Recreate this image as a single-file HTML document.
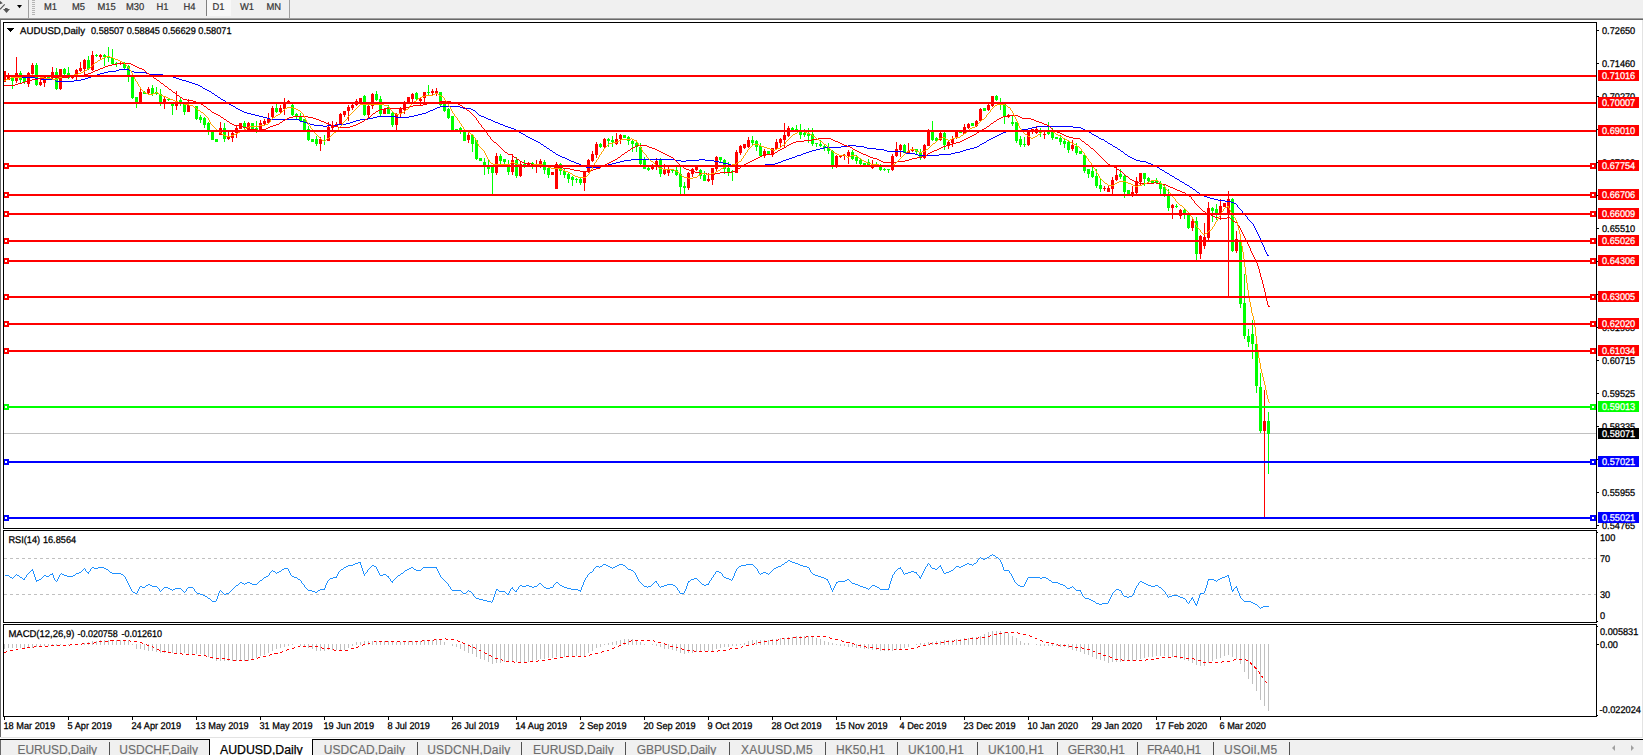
<!DOCTYPE html>
<html><head><meta charset="utf-8"><title>AUDUSD,Daily</title>
<style>
html,body{margin:0;padding:0;background:#fff}
body{width:1643px;height:755px;position:relative;overflow:hidden;font-family:"Liberation Sans",sans-serif}
#tb{position:absolute;left:0;top:0;width:1643px;height:18px;background:#f0f0f0}
#tb .tf{position:absolute;top:1.6px;font-size:9.4px;line-height:11px;color:#333;-webkit-text-stroke:0.2px #333;white-space:nowrap}
.vl{position:absolute;width:1px;background:#a0a0a0}
#d1{position:absolute;left:207px;top:0;width:24px;height:16px;background:#f8f8f8}
#grip{position:absolute;left:32px;top:0;width:3px;height:16px;background:repeating-linear-gradient(#b4b4b4 0 1px,#f0f0f0 1px 2px)}
#l1{position:absolute;left:0;top:18px;width:1643px;height:1px;background:#a0a0a0}
#l2{position:absolute;left:0;top:19px;width:1643px;height:1px;background:#696969}
#le{position:absolute;left:0;top:20px;width:1px;height:718px;background:#696969}
#re{position:absolute;left:1642px;top:20px;width:1px;height:718px;background:#e3e3e3}
#bl{position:absolute;left:0;top:737px;width:1643px;height:1px;background:#e3e3e3}
#tabs{position:absolute;left:0;top:739px;width:1643px;height:16px;background:#f0f0f0;border-top:1px solid #000;box-sizing:border-box}
#tabs .tab{position:absolute;top:3px;-webkit-text-stroke:0.15px #6d6d6d;font-size:12px;line-height:14px;color:#6d6d6d;white-space:nowrap}
#tabs .sep{position:absolute;top:2px;width:1px;height:14px;background:#505050}
#act{position:absolute;left:209px;top:739px;width:104px;height:16px;background:#fff;border-left:1px solid #000;border-right:1px solid #000;box-sizing:border-box}
#act span{position:absolute;left:10px;top:4px;-webkit-text-stroke:0.25px #000;font-size:12.3px;line-height:14px;color:#000;white-space:nowrap}
#tl{position:absolute;left:0;top:740px;width:1px;height:15px;background:#696969}
svg{position:absolute;left:0;top:0}
svg text{font-family:"Liberation Sans",sans-serif;white-space:pre;text-rendering:geometricPrecision}
</style></head><body>
<div id="tb"><svg width="28" height="18" viewBox="0 0 28 18"><polygon points="0,0.8 2.8,3.2 0,4.2" fill="#555"/><path d="M0 9.3 L4.7 4.3" stroke="#555" stroke-width="1.2" fill="none"/><polygon points="3,9 5,9 5,8 7.6,8 7.6,9 10,9 6.5,13" fill="#555"/><polygon points="17,5 22,5 19.5,8.2" fill="#000"/></svg><i class="vl" style="left:28px;top:0;height:18px"></i><i id="grip"></i><i id="d1"></i><i class="vl" style="left:206px;top:0;height:16px;background:#808080"></i><i class="vl" style="left:289px;top:0;height:18px"></i><svg width="300" height="18" viewBox="0 0 300 18"><text transform="translate(44 10) scale(1 1.06)" font-size="9.4" fill="#333" stroke="#333" stroke-width="0.2">M1</text><text transform="translate(72 10) scale(1 1.06)" font-size="9.4" fill="#333" stroke="#333" stroke-width="0.2">M5</text><text transform="translate(97.5 10) scale(1 1.06)" font-size="9.4" fill="#333" stroke="#333" stroke-width="0.2">M15</text><text transform="translate(126 10) scale(1 1.06)" font-size="9.4" fill="#333" stroke="#333" stroke-width="0.2">M30</text><text transform="translate(156.5 10) scale(1 1.06)" font-size="9.4" fill="#333" stroke="#333" stroke-width="0.2">H1</text><text transform="translate(183.5 10) scale(1 1.06)" font-size="9.4" fill="#333" stroke="#333" stroke-width="0.2">H4</text><text transform="translate(212.5 10) scale(1 1.06)" font-size="9.4" fill="#333" stroke="#333" stroke-width="0.2">D1</text><text transform="translate(240 10) scale(1 1.06)" font-size="9.4" fill="#333" stroke="#333" stroke-width="0.2">W1</text><text transform="translate(266.5 10) scale(1 1.06)" font-size="9.4" fill="#333" stroke="#333" stroke-width="0.2">MN</text></svg></div>
<i id="l1"></i><i id="l2"></i><i id="le"></i><i id="re"></i><i id="bl"></i>
<svg width="1643" height="755" viewBox="0 0 1643 755" shape-rendering="crispEdges">
<rect x="4" y="644" width="1" height="5" fill="#c0c0c0"/>
<rect x="8" y="644" width="1" height="4" fill="#c0c0c0"/>
<rect x="12" y="644" width="1" height="4" fill="#c0c0c0"/>
<rect x="16" y="644" width="1" height="4" fill="#c0c0c0"/>
<rect x="20" y="644" width="1" height="4" fill="#c0c0c0"/>
<rect x="24" y="644" width="1" height="4" fill="#c0c0c0"/>
<rect x="28" y="644" width="1" height="4" fill="#c0c0c0"/>
<rect x="32" y="644" width="1" height="4" fill="#c0c0c0"/>
<rect x="36" y="644" width="1" height="3" fill="#c0c0c0"/>
<rect x="40" y="644" width="1" height="3" fill="#c0c0c0"/>
<rect x="44" y="644" width="1" height="2" fill="#c0c0c0"/>
<rect x="48" y="644" width="1" height="2" fill="#c0c0c0"/>
<rect x="52" y="644" width="1" height="2" fill="#c0c0c0"/>
<rect x="56" y="644" width="1" height="2" fill="#c0c0c0"/>
<rect x="60" y="644" width="1" height="1" fill="#c0c0c0"/>
<rect x="68" y="644" width="1" height="1" fill="#c0c0c0"/>
<rect x="76" y="644" width="1" height="1" fill="#c0c0c0"/>
<rect x="84" y="643" width="1" height="2" fill="#c0c0c0"/>
<rect x="88" y="642" width="1" height="3" fill="#c0c0c0"/>
<rect x="92" y="641" width="1" height="4" fill="#c0c0c0"/>
<rect x="96" y="641" width="1" height="4" fill="#c0c0c0"/>
<rect x="100" y="640" width="1" height="5" fill="#c0c0c0"/>
<rect x="104" y="640" width="1" height="5" fill="#c0c0c0"/>
<rect x="108" y="640" width="1" height="5" fill="#c0c0c0"/>
<rect x="112" y="640" width="1" height="5" fill="#c0c0c0"/>
<rect x="116" y="640" width="1" height="5" fill="#c0c0c0"/>
<rect x="120" y="640" width="1" height="5" fill="#c0c0c0"/>
<rect x="124" y="640" width="1" height="5" fill="#c0c0c0"/>
<rect x="128" y="640" width="1" height="5" fill="#c0c0c0"/>
<rect x="132" y="644" width="1" height="1" fill="#c0c0c0"/>
<rect x="136" y="644" width="1" height="5" fill="#c0c0c0"/>
<rect x="140" y="644" width="1" height="5" fill="#c0c0c0"/>
<rect x="144" y="644" width="1" height="6" fill="#c0c0c0"/>
<rect x="148" y="644" width="1" height="7" fill="#c0c0c0"/>
<rect x="152" y="644" width="1" height="7" fill="#c0c0c0"/>
<rect x="156" y="644" width="1" height="8" fill="#c0c0c0"/>
<rect x="160" y="644" width="1" height="9" fill="#c0c0c0"/>
<rect x="164" y="644" width="1" height="9" fill="#c0c0c0"/>
<rect x="168" y="644" width="1" height="9" fill="#c0c0c0"/>
<rect x="172" y="644" width="1" height="9" fill="#c0c0c0"/>
<rect x="176" y="644" width="1" height="9" fill="#c0c0c0"/>
<rect x="180" y="644" width="1" height="9" fill="#c0c0c0"/>
<rect x="184" y="644" width="1" height="9" fill="#c0c0c0"/>
<rect x="188" y="644" width="1" height="10" fill="#c0c0c0"/>
<rect x="192" y="644" width="1" height="10" fill="#c0c0c0"/>
<rect x="196" y="644" width="1" height="10" fill="#c0c0c0"/>
<rect x="200" y="644" width="1" height="10" fill="#c0c0c0"/>
<rect x="204" y="644" width="1" height="11" fill="#c0c0c0"/>
<rect x="208" y="644" width="1" height="13" fill="#c0c0c0"/>
<rect x="212" y="644" width="1" height="15" fill="#c0c0c0"/>
<rect x="216" y="644" width="1" height="17" fill="#c0c0c0"/>
<rect x="220" y="644" width="1" height="17" fill="#c0c0c0"/>
<rect x="224" y="644" width="1" height="17" fill="#c0c0c0"/>
<rect x="228" y="644" width="1" height="17" fill="#c0c0c0"/>
<rect x="232" y="644" width="1" height="17" fill="#c0c0c0"/>
<rect x="236" y="644" width="1" height="17" fill="#c0c0c0"/>
<rect x="240" y="644" width="1" height="17" fill="#c0c0c0"/>
<rect x="244" y="644" width="1" height="17" fill="#c0c0c0"/>
<rect x="248" y="644" width="1" height="17" fill="#c0c0c0"/>
<rect x="252" y="644" width="1" height="15" fill="#c0c0c0"/>
<rect x="256" y="644" width="1" height="14" fill="#c0c0c0"/>
<rect x="260" y="644" width="1" height="12" fill="#c0c0c0"/>
<rect x="264" y="644" width="1" height="11" fill="#c0c0c0"/>
<rect x="268" y="644" width="1" height="9" fill="#c0c0c0"/>
<rect x="272" y="644" width="1" height="7" fill="#c0c0c0"/>
<rect x="276" y="644" width="1" height="5" fill="#c0c0c0"/>
<rect x="280" y="644" width="1" height="4" fill="#c0c0c0"/>
<rect x="284" y="644" width="1" height="3" fill="#c0c0c0"/>
<rect x="288" y="644" width="1" height="2" fill="#c0c0c0"/>
<rect x="292" y="644" width="1" height="1" fill="#c0c0c0"/>
<rect x="300" y="644" width="1" height="2" fill="#c0c0c0"/>
<rect x="304" y="644" width="1" height="3" fill="#c0c0c0"/>
<rect x="308" y="644" width="1" height="4" fill="#c0c0c0"/>
<rect x="312" y="644" width="1" height="5" fill="#c0c0c0"/>
<rect x="316" y="644" width="1" height="7" fill="#c0c0c0"/>
<rect x="320" y="644" width="1" height="7" fill="#c0c0c0"/>
<rect x="324" y="644" width="1" height="7" fill="#c0c0c0"/>
<rect x="328" y="644" width="1" height="6" fill="#c0c0c0"/>
<rect x="332" y="644" width="1" height="6" fill="#c0c0c0"/>
<rect x="336" y="644" width="1" height="6" fill="#c0c0c0"/>
<rect x="340" y="644" width="1" height="6" fill="#c0c0c0"/>
<rect x="344" y="644" width="1" height="6" fill="#c0c0c0"/>
<rect x="348" y="644" width="1" height="4" fill="#c0c0c0"/>
<rect x="352" y="644" width="1" height="2" fill="#c0c0c0"/>
<rect x="356" y="642" width="1" height="3" fill="#c0c0c0"/>
<rect x="360" y="642" width="1" height="3" fill="#c0c0c0"/>
<rect x="364" y="641" width="1" height="4" fill="#c0c0c0"/>
<rect x="368" y="641" width="1" height="4" fill="#c0c0c0"/>
<rect x="372" y="641" width="1" height="4" fill="#c0c0c0"/>
<rect x="376" y="641" width="1" height="4" fill="#c0c0c0"/>
<rect x="380" y="641" width="1" height="4" fill="#c0c0c0"/>
<rect x="384" y="641" width="1" height="4" fill="#c0c0c0"/>
<rect x="388" y="641" width="1" height="4" fill="#c0c0c0"/>
<rect x="392" y="642" width="1" height="3" fill="#c0c0c0"/>
<rect x="396" y="642" width="1" height="3" fill="#c0c0c0"/>
<rect x="400" y="642" width="1" height="3" fill="#c0c0c0"/>
<rect x="404" y="641" width="1" height="4" fill="#c0c0c0"/>
<rect x="408" y="641" width="1" height="4" fill="#c0c0c0"/>
<rect x="412" y="641" width="1" height="4" fill="#c0c0c0"/>
<rect x="416" y="641" width="1" height="4" fill="#c0c0c0"/>
<rect x="420" y="641" width="1" height="4" fill="#c0c0c0"/>
<rect x="424" y="640" width="1" height="5" fill="#c0c0c0"/>
<rect x="428" y="640" width="1" height="5" fill="#c0c0c0"/>
<rect x="432" y="640" width="1" height="5" fill="#c0c0c0"/>
<rect x="436" y="639" width="1" height="6" fill="#c0c0c0"/>
<rect x="440" y="639" width="1" height="6" fill="#c0c0c0"/>
<rect x="444" y="642" width="1" height="3" fill="#c0c0c0"/>
<rect x="452" y="644" width="1" height="2" fill="#c0c0c0"/>
<rect x="456" y="644" width="1" height="3" fill="#c0c0c0"/>
<rect x="460" y="644" width="1" height="5" fill="#c0c0c0"/>
<rect x="464" y="644" width="1" height="7" fill="#c0c0c0"/>
<rect x="468" y="644" width="1" height="9" fill="#c0c0c0"/>
<rect x="472" y="644" width="1" height="10" fill="#c0c0c0"/>
<rect x="476" y="644" width="1" height="13" fill="#c0c0c0"/>
<rect x="480" y="644" width="1" height="15" fill="#c0c0c0"/>
<rect x="484" y="644" width="1" height="16" fill="#c0c0c0"/>
<rect x="488" y="644" width="1" height="18" fill="#c0c0c0"/>
<rect x="492" y="644" width="1" height="20" fill="#c0c0c0"/>
<rect x="496" y="644" width="1" height="19" fill="#c0c0c0"/>
<rect x="500" y="644" width="1" height="19" fill="#c0c0c0"/>
<rect x="504" y="644" width="1" height="18" fill="#c0c0c0"/>
<rect x="508" y="644" width="1" height="18" fill="#c0c0c0"/>
<rect x="512" y="644" width="1" height="18" fill="#c0c0c0"/>
<rect x="516" y="644" width="1" height="18" fill="#c0c0c0"/>
<rect x="520" y="644" width="1" height="18" fill="#c0c0c0"/>
<rect x="524" y="644" width="1" height="18" fill="#c0c0c0"/>
<rect x="528" y="644" width="1" height="18" fill="#c0c0c0"/>
<rect x="532" y="644" width="1" height="17" fill="#c0c0c0"/>
<rect x="536" y="644" width="1" height="16" fill="#c0c0c0"/>
<rect x="540" y="644" width="1" height="15" fill="#c0c0c0"/>
<rect x="544" y="644" width="1" height="15" fill="#c0c0c0"/>
<rect x="548" y="644" width="1" height="14" fill="#c0c0c0"/>
<rect x="552" y="644" width="1" height="14" fill="#c0c0c0"/>
<rect x="556" y="644" width="1" height="13" fill="#c0c0c0"/>
<rect x="560" y="644" width="1" height="13" fill="#c0c0c0"/>
<rect x="564" y="644" width="1" height="13" fill="#c0c0c0"/>
<rect x="568" y="644" width="1" height="13" fill="#c0c0c0"/>
<rect x="572" y="644" width="1" height="12" fill="#c0c0c0"/>
<rect x="576" y="644" width="1" height="12" fill="#c0c0c0"/>
<rect x="580" y="644" width="1" height="12" fill="#c0c0c0"/>
<rect x="584" y="644" width="1" height="12" fill="#c0c0c0"/>
<rect x="588" y="644" width="1" height="9" fill="#c0c0c0"/>
<rect x="592" y="644" width="1" height="7" fill="#c0c0c0"/>
<rect x="596" y="644" width="1" height="4" fill="#c0c0c0"/>
<rect x="600" y="644" width="1" height="3" fill="#c0c0c0"/>
<rect x="604" y="644" width="1" height="1" fill="#c0c0c0"/>
<rect x="608" y="643" width="1" height="2" fill="#c0c0c0"/>
<rect x="612" y="642" width="1" height="3" fill="#c0c0c0"/>
<rect x="616" y="641" width="1" height="4" fill="#c0c0c0"/>
<rect x="620" y="640" width="1" height="5" fill="#c0c0c0"/>
<rect x="624" y="639" width="1" height="6" fill="#c0c0c0"/>
<rect x="628" y="639" width="1" height="6" fill="#c0c0c0"/>
<rect x="632" y="639" width="1" height="6" fill="#c0c0c0"/>
<rect x="636" y="640" width="1" height="5" fill="#c0c0c0"/>
<rect x="640" y="642" width="1" height="3" fill="#c0c0c0"/>
<rect x="644" y="644" width="1" height="1" fill="#c0c0c0"/>
<rect x="652" y="644" width="1" height="1" fill="#c0c0c0"/>
<rect x="656" y="644" width="1" height="2" fill="#c0c0c0"/>
<rect x="660" y="644" width="1" height="3" fill="#c0c0c0"/>
<rect x="664" y="644" width="1" height="5" fill="#c0c0c0"/>
<rect x="668" y="644" width="1" height="5" fill="#c0c0c0"/>
<rect x="672" y="644" width="1" height="6" fill="#c0c0c0"/>
<rect x="676" y="644" width="1" height="7" fill="#c0c0c0"/>
<rect x="680" y="644" width="1" height="9" fill="#c0c0c0"/>
<rect x="684" y="644" width="1" height="10" fill="#c0c0c0"/>
<rect x="688" y="644" width="1" height="9" fill="#c0c0c0"/>
<rect x="692" y="644" width="1" height="9" fill="#c0c0c0"/>
<rect x="696" y="644" width="1" height="8" fill="#c0c0c0"/>
<rect x="700" y="644" width="1" height="8" fill="#c0c0c0"/>
<rect x="704" y="644" width="1" height="7" fill="#c0c0c0"/>
<rect x="708" y="644" width="1" height="7" fill="#c0c0c0"/>
<rect x="712" y="644" width="1" height="7" fill="#c0c0c0"/>
<rect x="716" y="644" width="1" height="5" fill="#c0c0c0"/>
<rect x="720" y="644" width="1" height="4" fill="#c0c0c0"/>
<rect x="724" y="644" width="1" height="3" fill="#c0c0c0"/>
<rect x="728" y="644" width="1" height="3" fill="#c0c0c0"/>
<rect x="732" y="644" width="1" height="2" fill="#c0c0c0"/>
<rect x="736" y="644" width="1" height="2" fill="#c0c0c0"/>
<rect x="740" y="644" width="1" height="1" fill="#c0c0c0"/>
<rect x="744" y="643" width="1" height="2" fill="#c0c0c0"/>
<rect x="748" y="641" width="1" height="4" fill="#c0c0c0"/>
<rect x="752" y="640" width="1" height="5" fill="#c0c0c0"/>
<rect x="756" y="640" width="1" height="5" fill="#c0c0c0"/>
<rect x="760" y="640" width="1" height="5" fill="#c0c0c0"/>
<rect x="764" y="640" width="1" height="5" fill="#c0c0c0"/>
<rect x="768" y="640" width="1" height="5" fill="#c0c0c0"/>
<rect x="772" y="639" width="1" height="6" fill="#c0c0c0"/>
<rect x="776" y="639" width="1" height="6" fill="#c0c0c0"/>
<rect x="780" y="638" width="1" height="7" fill="#c0c0c0"/>
<rect x="784" y="638" width="1" height="7" fill="#c0c0c0"/>
<rect x="788" y="637" width="1" height="8" fill="#c0c0c0"/>
<rect x="792" y="637" width="1" height="8" fill="#c0c0c0"/>
<rect x="796" y="636" width="1" height="9" fill="#c0c0c0"/>
<rect x="800" y="636" width="1" height="9" fill="#c0c0c0"/>
<rect x="804" y="636" width="1" height="9" fill="#c0c0c0"/>
<rect x="808" y="636" width="1" height="9" fill="#c0c0c0"/>
<rect x="812" y="636" width="1" height="9" fill="#c0c0c0"/>
<rect x="816" y="638" width="1" height="7" fill="#c0c0c0"/>
<rect x="820" y="639" width="1" height="6" fill="#c0c0c0"/>
<rect x="824" y="641" width="1" height="4" fill="#c0c0c0"/>
<rect x="828" y="642" width="1" height="3" fill="#c0c0c0"/>
<rect x="832" y="643" width="1" height="2" fill="#c0c0c0"/>
<rect x="836" y="644" width="1" height="1" fill="#c0c0c0"/>
<rect x="840" y="644" width="1" height="2" fill="#c0c0c0"/>
<rect x="844" y="644" width="1" height="2" fill="#c0c0c0"/>
<rect x="848" y="644" width="1" height="3" fill="#c0c0c0"/>
<rect x="852" y="644" width="1" height="3" fill="#c0c0c0"/>
<rect x="856" y="644" width="1" height="4" fill="#c0c0c0"/>
<rect x="860" y="644" width="1" height="4" fill="#c0c0c0"/>
<rect x="864" y="644" width="1" height="5" fill="#c0c0c0"/>
<rect x="868" y="644" width="1" height="5" fill="#c0c0c0"/>
<rect x="872" y="644" width="1" height="6" fill="#c0c0c0"/>
<rect x="876" y="644" width="1" height="6" fill="#c0c0c0"/>
<rect x="880" y="644" width="1" height="7" fill="#c0c0c0"/>
<rect x="884" y="644" width="1" height="7" fill="#c0c0c0"/>
<rect x="888" y="644" width="1" height="7" fill="#c0c0c0"/>
<rect x="892" y="644" width="1" height="7" fill="#c0c0c0"/>
<rect x="896" y="644" width="1" height="6" fill="#c0c0c0"/>
<rect x="900" y="644" width="1" height="5" fill="#c0c0c0"/>
<rect x="904" y="644" width="1" height="4" fill="#c0c0c0"/>
<rect x="908" y="644" width="1" height="3" fill="#c0c0c0"/>
<rect x="916" y="644" width="1" height="1" fill="#c0c0c0"/>
<rect x="920" y="643" width="1" height="2" fill="#c0c0c0"/>
<rect x="924" y="643" width="1" height="2" fill="#c0c0c0"/>
<rect x="928" y="642" width="1" height="3" fill="#c0c0c0"/>
<rect x="932" y="642" width="1" height="3" fill="#c0c0c0"/>
<rect x="936" y="641" width="1" height="4" fill="#c0c0c0"/>
<rect x="940" y="641" width="1" height="4" fill="#c0c0c0"/>
<rect x="944" y="640" width="1" height="5" fill="#c0c0c0"/>
<rect x="948" y="640" width="1" height="5" fill="#c0c0c0"/>
<rect x="952" y="640" width="1" height="5" fill="#c0c0c0"/>
<rect x="956" y="639" width="1" height="6" fill="#c0c0c0"/>
<rect x="960" y="639" width="1" height="6" fill="#c0c0c0"/>
<rect x="964" y="638" width="1" height="7" fill="#c0c0c0"/>
<rect x="968" y="638" width="1" height="7" fill="#c0c0c0"/>
<rect x="972" y="637" width="1" height="8" fill="#c0c0c0"/>
<rect x="976" y="637" width="1" height="8" fill="#c0c0c0"/>
<rect x="980" y="636" width="1" height="9" fill="#c0c0c0"/>
<rect x="984" y="634" width="1" height="11" fill="#c0c0c0"/>
<rect x="988" y="632" width="1" height="13" fill="#c0c0c0"/>
<rect x="992" y="631" width="1" height="14" fill="#c0c0c0"/>
<rect x="996" y="631" width="1" height="14" fill="#c0c0c0"/>
<rect x="1000" y="631" width="1" height="14" fill="#c0c0c0"/>
<rect x="1004" y="632" width="1" height="13" fill="#c0c0c0"/>
<rect x="1008" y="633" width="1" height="12" fill="#c0c0c0"/>
<rect x="1012" y="636" width="1" height="9" fill="#c0c0c0"/>
<rect x="1016" y="638" width="1" height="7" fill="#c0c0c0"/>
<rect x="1020" y="641" width="1" height="4" fill="#c0c0c0"/>
<rect x="1024" y="643" width="1" height="2" fill="#c0c0c0"/>
<rect x="1028" y="643" width="1" height="2" fill="#c0c0c0"/>
<rect x="1036" y="644" width="1" height="1" fill="#c0c0c0"/>
<rect x="1040" y="644" width="1" height="2" fill="#c0c0c0"/>
<rect x="1044" y="644" width="1" height="2" fill="#c0c0c0"/>
<rect x="1048" y="644" width="1" height="2" fill="#c0c0c0"/>
<rect x="1052" y="644" width="1" height="2" fill="#c0c0c0"/>
<rect x="1056" y="644" width="1" height="2" fill="#c0c0c0"/>
<rect x="1060" y="644" width="1" height="3" fill="#c0c0c0"/>
<rect x="1064" y="644" width="1" height="3" fill="#c0c0c0"/>
<rect x="1068" y="644" width="1" height="4" fill="#c0c0c0"/>
<rect x="1072" y="644" width="1" height="6" fill="#c0c0c0"/>
<rect x="1076" y="644" width="1" height="7" fill="#c0c0c0"/>
<rect x="1080" y="644" width="1" height="8" fill="#c0c0c0"/>
<rect x="1084" y="644" width="1" height="10" fill="#c0c0c0"/>
<rect x="1088" y="644" width="1" height="11" fill="#c0c0c0"/>
<rect x="1092" y="644" width="1" height="13" fill="#c0c0c0"/>
<rect x="1096" y="644" width="1" height="15" fill="#c0c0c0"/>
<rect x="1100" y="644" width="1" height="16" fill="#c0c0c0"/>
<rect x="1104" y="644" width="1" height="17" fill="#c0c0c0"/>
<rect x="1108" y="644" width="1" height="19" fill="#c0c0c0"/>
<rect x="1112" y="644" width="1" height="18" fill="#c0c0c0"/>
<rect x="1116" y="644" width="1" height="18" fill="#c0c0c0"/>
<rect x="1120" y="644" width="1" height="18" fill="#c0c0c0"/>
<rect x="1124" y="644" width="1" height="17" fill="#c0c0c0"/>
<rect x="1128" y="644" width="1" height="17" fill="#c0c0c0"/>
<rect x="1132" y="644" width="1" height="17" fill="#c0c0c0"/>
<rect x="1136" y="644" width="1" height="16" fill="#c0c0c0"/>
<rect x="1140" y="644" width="1" height="15" fill="#c0c0c0"/>
<rect x="1144" y="644" width="1" height="14" fill="#c0c0c0"/>
<rect x="1148" y="644" width="1" height="13" fill="#c0c0c0"/>
<rect x="1152" y="644" width="1" height="13" fill="#c0c0c0"/>
<rect x="1156" y="644" width="1" height="12" fill="#c0c0c0"/>
<rect x="1160" y="644" width="1" height="12" fill="#c0c0c0"/>
<rect x="1164" y="644" width="1" height="12" fill="#c0c0c0"/>
<rect x="1168" y="644" width="1" height="13" fill="#c0c0c0"/>
<rect x="1172" y="644" width="1" height="13" fill="#c0c0c0"/>
<rect x="1176" y="644" width="1" height="14" fill="#c0c0c0"/>
<rect x="1180" y="644" width="1" height="15" fill="#c0c0c0"/>
<rect x="1184" y="644" width="1" height="16" fill="#c0c0c0"/>
<rect x="1188" y="644" width="1" height="17" fill="#c0c0c0"/>
<rect x="1192" y="644" width="1" height="19" fill="#c0c0c0"/>
<rect x="1196" y="644" width="1" height="21" fill="#c0c0c0"/>
<rect x="1200" y="644" width="1" height="22" fill="#c0c0c0"/>
<rect x="1204" y="644" width="1" height="22" fill="#c0c0c0"/>
<rect x="1208" y="644" width="1" height="19" fill="#c0c0c0"/>
<rect x="1212" y="644" width="1" height="17" fill="#c0c0c0"/>
<rect x="1216" y="644" width="1" height="15" fill="#c0c0c0"/>
<rect x="1220" y="644" width="1" height="14" fill="#c0c0c0"/>
<rect x="1224" y="644" width="1" height="12" fill="#c0c0c0"/>
<rect x="1228" y="644" width="1" height="11" fill="#c0c0c0"/>
<rect x="1232" y="644" width="1" height="13" fill="#c0c0c0"/>
<rect x="1236" y="644" width="1" height="15" fill="#c0c0c0"/>
<rect x="1240" y="644" width="1" height="20" fill="#c0c0c0"/>
<rect x="1244" y="644" width="1" height="28" fill="#c0c0c0"/>
<rect x="1248" y="644" width="1" height="35" fill="#c0c0c0"/>
<rect x="1252" y="644" width="1" height="40" fill="#c0c0c0"/>
<rect x="1256" y="644" width="1" height="47" fill="#c0c0c0"/>
<rect x="1260" y="644" width="1" height="56" fill="#c0c0c0"/>
<rect x="1264" y="644" width="1" height="62" fill="#c0c0c0"/>
<rect x="1268" y="644" width="1" height="67" fill="#c0c0c0"/>
<polyline fill="none" stroke="#ff0000" stroke-width="1" stroke-dasharray="3 3" points="4.0,652.5 8.0,651.5 12.0,650.5 16.0,649.5 20.0,648.5 24.0,648.5 28.0,647.5 32.0,647.5 36.0,646.5 40.0,646.5 44.0,646.5 48.0,646.5 52.0,645.5 56.0,645.5 60.0,645.5 64.0,645.5 68.0,645.5 72.0,644.5 76.0,644.5 80.0,644.5 84.0,643.5 88.0,643.5 92.0,643.5 96.0,642.5 100.0,641.5 104.0,641.5 108.0,641.5 112.0,640.5 116.0,640.5 120.0,640.5 124.0,640.5 128.0,640.5 132.0,641.5 136.0,641.5 140.0,642.5 144.0,643.5 148.0,645.5 152.0,646.5 156.0,648.5 160.0,650.5 164.0,651.5 168.0,652.5 172.0,652.5 176.0,653.5 180.0,653.5 184.0,654.5 188.0,654.5 192.0,654.5 196.0,654.5 200.0,655.5 204.0,655.5 208.0,656.5 212.0,657.5 216.0,658.5 220.0,658.5 224.0,658.5 228.0,659.5 232.0,660.5 236.0,660.5 240.0,660.5 244.0,660.5 248.0,660.5 252.0,659.5 256.0,658.5 260.0,657.5 264.0,656.5 268.0,655.5 272.0,654.5 276.0,653.5 280.0,652.5 284.0,651.5 288.0,649.5 292.0,648.5 296.0,647.5 300.0,646.5 304.0,646.5 308.0,646.5 312.0,646.5 316.0,646.5 320.0,647.5 324.0,648.5 328.0,648.5 332.0,649.5 336.0,650.5 340.0,650.5 344.0,650.5 348.0,650.5 352.0,648.5 356.0,647.5 360.0,646.5 364.0,644.5 368.0,643.5 372.0,642.5 376.0,641.5 380.0,641.5 384.0,641.5 388.0,641.5 392.0,641.5 396.0,641.5 400.0,641.5 404.0,641.5 408.0,641.5 412.0,641.5 416.0,641.5 420.0,641.5 424.0,640.5 428.0,640.5 432.0,640.5 436.0,639.5 440.0,639.5 444.0,638.5 448.0,639.5 452.0,639.5 456.0,640.5 460.0,641.5 464.0,643.5 468.0,645.5 472.0,646.5 476.0,648.5 480.0,650.5 484.0,652.5 488.0,654.5 492.0,656.5 496.0,658.5 500.0,659.5 504.0,660.5 508.0,661.5 512.0,661.5 516.0,662.5 520.0,662.5 524.0,662.5 528.0,662.5 532.0,661.5 536.0,661.5 540.0,660.5 544.0,660.5 548.0,659.5 552.0,659.5 556.0,658.5 560.0,657.5 564.0,657.5 568.0,656.5 572.0,656.5 576.0,656.5 580.0,656.5 584.0,656.5 588.0,655.5 592.0,654.5 596.0,653.5 600.0,652.5 604.0,651.5 608.0,650.5 612.0,648.5 616.0,647.5 620.0,645.5 624.0,643.5 628.0,642.5 632.0,640.5 636.0,640.5 640.0,640.5 644.0,640.5 648.0,640.5 652.0,640.5 656.0,641.5 660.0,642.5 664.0,643.5 668.0,645.5 672.0,646.5 676.0,647.5 680.0,648.5 684.0,649.5 688.0,650.5 692.0,650.5 696.0,651.5 700.0,651.5 704.0,651.5 708.0,651.5 712.0,651.5 716.0,651.5 720.0,650.5 724.0,650.5 728.0,649.5 732.0,648.5 736.0,648.5 740.0,647.5 744.0,646.5 748.0,645.5 752.0,644.5 756.0,643.5 760.0,642.5 764.0,641.5 768.0,641.5 772.0,640.5 776.0,640.5 780.0,639.5 784.0,638.5 788.0,638.5 792.0,637.5 796.0,637.5 800.0,637.5 804.0,637.5 808.0,636.5 812.0,636.5 816.0,636.5 820.0,636.5 824.0,636.5 828.0,637.5 832.0,638.5 836.0,639.5 840.0,640.5 844.0,641.5 848.0,642.5 852.0,643.5 856.0,644.5 860.0,645.5 864.0,646.5 868.0,647.5 872.0,647.5 876.0,648.5 880.0,648.5 884.0,649.5 888.0,649.5 892.0,650.5 896.0,649.5 900.0,649.5 904.0,649.5 908.0,649.5 912.0,648.5 916.0,647.5 920.0,646.5 924.0,645.5 928.0,644.5 932.0,643.5 936.0,643.5 940.0,642.5 944.0,642.5 948.0,641.5 952.0,641.5 956.0,640.5 960.0,640.5 964.0,639.5 968.0,639.5 972.0,638.5 976.0,638.5 980.0,637.5 984.0,637.5 988.0,636.5 992.0,635.5 996.0,634.5 1000.0,633.5 1004.0,632.5 1008.0,632.5 1012.0,632.5 1016.0,632.5 1020.0,633.5 1024.0,634.5 1028.0,635.5 1032.0,636.5 1036.0,638.5 1040.0,640.5 1044.0,641.5 1048.0,642.5 1052.0,643.5 1056.0,644.5 1060.0,645.5 1064.0,645.5 1068.0,646.5 1072.0,646.5 1076.0,647.5 1080.0,647.5 1084.0,648.5 1088.0,649.5 1092.0,650.5 1096.0,652.5 1100.0,653.5 1104.0,655.5 1108.0,656.5 1112.0,657.5 1116.0,659.5 1120.0,659.5 1124.0,660.5 1128.0,660.5 1132.0,660.5 1136.0,660.5 1140.0,660.5 1144.0,660.5 1148.0,659.5 1152.0,659.5 1156.0,658.5 1160.0,658.5 1164.0,657.5 1168.0,657.5 1172.0,657.5 1176.0,656.5 1180.0,657.5 1184.0,657.5 1188.0,658.5 1192.0,658.5 1196.0,659.5 1200.0,660.5 1204.0,662.5 1208.0,662.5 1212.0,662.5 1216.0,662.5 1220.0,662.5 1224.0,661.5 1228.0,661.5 1232.0,660.5 1236.0,659.5 1240.0,659.5 1244.0,659.5 1248.0,660.5 1252.0,664.5 1256.0,668.5 1260.0,673.5 1264.0,679.5 1268.0,684.5"/>
<line x1="4" x2="1596" y1="558.5" y2="558.5" stroke="#c0c0c0" stroke-width="1" stroke-dasharray="3 3"/>
<line x1="4" x2="1596" y1="594.5" y2="594.5" stroke="#c0c0c0" stroke-width="1" stroke-dasharray="3 3"/>
<rect x="4" y="433" width="1592" height="1" fill="#c0c0c0"/>
<rect x="4" y="71" width="1" height="11" fill="#ff0000"/>
<rect x="4" y="71" width="2" height="11" fill="#ff0000"/>
<rect x="8" y="73" width="1" height="7" fill="#ff0000"/>
<rect x="7" y="77" width="3" height="3" fill="#ff0000"/>
<rect x="12" y="77" width="1" height="12" fill="#00ff00"/>
<rect x="11" y="77" width="3" height="4" fill="#00ff00"/>
<rect x="16" y="57" width="1" height="26" fill="#ff0000"/>
<rect x="15" y="73" width="3" height="8" fill="#ff0000"/>
<rect x="20" y="71" width="1" height="12" fill="#00ff00"/>
<rect x="19" y="73" width="3" height="7" fill="#00ff00"/>
<rect x="24" y="78" width="1" height="6" fill="#00ff00"/>
<rect x="23" y="78" width="3" height="4" fill="#00ff00"/>
<rect x="28" y="72" width="1" height="15" fill="#ff0000"/>
<rect x="27" y="73" width="3" height="11" fill="#ff0000"/>
<rect x="32" y="63" width="1" height="11" fill="#ff0000"/>
<rect x="31" y="65" width="3" height="9" fill="#ff0000"/>
<rect x="36" y="63" width="1" height="23" fill="#00ff00"/>
<rect x="35" y="65" width="3" height="20" fill="#00ff00"/>
<rect x="40" y="78" width="1" height="8" fill="#ff0000"/>
<rect x="39" y="82" width="3" height="3" fill="#ff0000"/>
<rect x="44" y="77" width="1" height="10" fill="#ff0000"/>
<rect x="43" y="77" width="3" height="6" fill="#ff0000"/>
<rect x="48" y="77" width="1" height="2" fill="#00ff00"/>
<rect x="47" y="77" width="3" height="1" fill="#00ff00"/>
<rect x="52" y="67" width="1" height="12" fill="#ff0000"/>
<rect x="51" y="72" width="3" height="6" fill="#ff0000"/>
<rect x="56" y="68" width="1" height="22" fill="#00ff00"/>
<rect x="55" y="72" width="3" height="17" fill="#00ff00"/>
<rect x="60" y="69" width="1" height="21" fill="#ff0000"/>
<rect x="59" y="69" width="3" height="20" fill="#ff0000"/>
<rect x="64" y="68" width="1" height="7" fill="#00ff00"/>
<rect x="63" y="69" width="3" height="5" fill="#00ff00"/>
<rect x="68" y="67" width="1" height="12" fill="#00ff00"/>
<rect x="67" y="73" width="3" height="5" fill="#00ff00"/>
<rect x="72" y="75" width="1" height="4" fill="#ff0000"/>
<rect x="71" y="76" width="3" height="2" fill="#ff0000"/>
<rect x="76" y="69" width="1" height="11" fill="#ff0000"/>
<rect x="75" y="70" width="3" height="4" fill="#ff0000"/>
<rect x="80" y="62" width="1" height="10" fill="#ff0000"/>
<rect x="79" y="68" width="3" height="3" fill="#ff0000"/>
<rect x="84" y="59" width="1" height="15" fill="#ff0000"/>
<rect x="83" y="60" width="3" height="9" fill="#ff0000"/>
<rect x="88" y="56" width="1" height="14" fill="#00ff00"/>
<rect x="87" y="60" width="3" height="9" fill="#00ff00"/>
<rect x="92" y="51" width="1" height="20" fill="#ff0000"/>
<rect x="91" y="55" width="3" height="15" fill="#ff0000"/>
<rect x="96" y="54" width="1" height="3" fill="#00ff00"/>
<rect x="95" y="55" width="3" height="1" fill="#00ff00"/>
<rect x="100" y="54" width="1" height="5" fill="#ff0000"/>
<rect x="99" y="55" width="3" height="2" fill="#ff0000"/>
<rect x="104" y="54" width="1" height="12" fill="#00ff00"/>
<rect x="103" y="55" width="3" height="2" fill="#00ff00"/>
<rect x="108" y="47" width="1" height="15" fill="#00ff00"/>
<rect x="107" y="56" width="3" height="2" fill="#00ff00"/>
<rect x="112" y="49" width="1" height="16" fill="#00ff00"/>
<rect x="111" y="58" width="3" height="6" fill="#00ff00"/>
<rect x="116" y="62" width="1" height="5" fill="#00ff00"/>
<rect x="115" y="63" width="3" height="1" fill="#00ff00"/>
<rect x="120" y="62" width="1" height="3" fill="#ff0000"/>
<rect x="119" y="63" width="3" height="1" fill="#ff0000"/>
<rect x="124" y="62" width="1" height="7" fill="#00ff00"/>
<rect x="123" y="63" width="3" height="5" fill="#00ff00"/>
<rect x="128" y="65" width="1" height="17" fill="#00ff00"/>
<rect x="127" y="66" width="3" height="11" fill="#00ff00"/>
<rect x="132" y="73" width="1" height="26" fill="#00ff00"/>
<rect x="131" y="77" width="3" height="21" fill="#00ff00"/>
<rect x="136" y="97" width="1" height="11" fill="#00ff00"/>
<rect x="135" y="97" width="3" height="5" fill="#00ff00"/>
<rect x="140" y="88" width="1" height="15" fill="#ff0000"/>
<rect x="139" y="92" width="3" height="10" fill="#ff0000"/>
<rect x="144" y="91" width="1" height="3" fill="#00ff00"/>
<rect x="143" y="92" width="3" height="2" fill="#00ff00"/>
<rect x="148" y="87" width="1" height="7" fill="#ff0000"/>
<rect x="147" y="89" width="3" height="4" fill="#ff0000"/>
<rect x="152" y="85" width="1" height="11" fill="#00ff00"/>
<rect x="151" y="88" width="3" height="6" fill="#00ff00"/>
<rect x="156" y="87" width="1" height="8" fill="#00ff00"/>
<rect x="155" y="92" width="3" height="2" fill="#00ff00"/>
<rect x="160" y="89" width="1" height="17" fill="#00ff00"/>
<rect x="159" y="94" width="3" height="8" fill="#00ff00"/>
<rect x="164" y="97" width="1" height="12" fill="#ff0000"/>
<rect x="163" y="99" width="3" height="5" fill="#ff0000"/>
<rect x="168" y="99" width="1" height="2" fill="#00ff00"/>
<rect x="167" y="99" width="3" height="1" fill="#00ff00"/>
<rect x="172" y="104" width="1" height="11" fill="#00ff00"/>
<rect x="171" y="104" width="3" height="2" fill="#00ff00"/>
<rect x="176" y="91" width="1" height="19" fill="#ff0000"/>
<rect x="175" y="102" width="3" height="4" fill="#ff0000"/>
<rect x="180" y="97" width="1" height="9" fill="#00ff00"/>
<rect x="179" y="100" width="3" height="2" fill="#00ff00"/>
<rect x="184" y="103" width="1" height="12" fill="#00ff00"/>
<rect x="183" y="104" width="3" height="8" fill="#00ff00"/>
<rect x="188" y="99" width="1" height="13" fill="#ff0000"/>
<rect x="187" y="105" width="3" height="7" fill="#ff0000"/>
<rect x="192" y="102" width="1" height="2" fill="#ff0000"/>
<rect x="191" y="102" width="3" height="1" fill="#ff0000"/>
<rect x="196" y="106" width="1" height="14" fill="#00ff00"/>
<rect x="195" y="106" width="3" height="13" fill="#00ff00"/>
<rect x="200" y="115" width="1" height="8" fill="#00ff00"/>
<rect x="199" y="117" width="3" height="3" fill="#00ff00"/>
<rect x="204" y="117" width="1" height="11" fill="#00ff00"/>
<rect x="203" y="118" width="3" height="7" fill="#00ff00"/>
<rect x="208" y="122" width="1" height="13" fill="#00ff00"/>
<rect x="207" y="123" width="3" height="7" fill="#00ff00"/>
<rect x="212" y="131" width="1" height="9" fill="#00ff00"/>
<rect x="211" y="132" width="3" height="8" fill="#00ff00"/>
<rect x="216" y="139" width="1" height="3" fill="#00ff00"/>
<rect x="215" y="139" width="3" height="3" fill="#00ff00"/>
<rect x="220" y="122" width="1" height="13" fill="#ff0000"/>
<rect x="219" y="128" width="3" height="7" fill="#ff0000"/>
<rect x="224" y="123" width="1" height="19" fill="#00ff00"/>
<rect x="223" y="128" width="3" height="11" fill="#00ff00"/>
<rect x="228" y="132" width="1" height="8" fill="#ff0000"/>
<rect x="227" y="137" width="3" height="2" fill="#ff0000"/>
<rect x="232" y="132" width="1" height="10" fill="#ff0000"/>
<rect x="231" y="133" width="3" height="5" fill="#ff0000"/>
<rect x="236" y="125" width="1" height="13" fill="#ff0000"/>
<rect x="235" y="128" width="3" height="5" fill="#ff0000"/>
<rect x="240" y="123" width="1" height="6" fill="#ff0000"/>
<rect x="239" y="123" width="3" height="6" fill="#ff0000"/>
<rect x="244" y="121" width="1" height="8" fill="#00ff00"/>
<rect x="243" y="123" width="3" height="5" fill="#00ff00"/>
<rect x="248" y="122" width="1" height="8" fill="#ff0000"/>
<rect x="247" y="123" width="3" height="7" fill="#ff0000"/>
<rect x="252" y="123" width="1" height="7" fill="#00ff00"/>
<rect x="251" y="123" width="3" height="7" fill="#00ff00"/>
<rect x="256" y="121" width="1" height="12" fill="#00ff00"/>
<rect x="255" y="128" width="3" height="2" fill="#00ff00"/>
<rect x="260" y="120" width="1" height="10" fill="#ff0000"/>
<rect x="259" y="123" width="3" height="7" fill="#ff0000"/>
<rect x="264" y="119" width="1" height="6" fill="#ff0000"/>
<rect x="263" y="121" width="3" height="3" fill="#ff0000"/>
<rect x="268" y="113" width="1" height="11" fill="#ff0000"/>
<rect x="267" y="118" width="3" height="5" fill="#ff0000"/>
<rect x="272" y="106" width="1" height="12" fill="#ff0000"/>
<rect x="271" y="108" width="3" height="9" fill="#ff0000"/>
<rect x="276" y="104" width="1" height="9" fill="#00ff00"/>
<rect x="275" y="108" width="3" height="4" fill="#00ff00"/>
<rect x="280" y="105" width="1" height="8" fill="#ff0000"/>
<rect x="279" y="108" width="3" height="4" fill="#ff0000"/>
<rect x="284" y="98" width="1" height="17" fill="#ff0000"/>
<rect x="283" y="103" width="3" height="6" fill="#ff0000"/>
<rect x="288" y="100" width="1" height="4" fill="#ff0000"/>
<rect x="287" y="101" width="3" height="2" fill="#ff0000"/>
<rect x="292" y="103" width="1" height="13" fill="#00ff00"/>
<rect x="291" y="105" width="3" height="10" fill="#00ff00"/>
<rect x="296" y="113" width="1" height="6" fill="#00ff00"/>
<rect x="295" y="114" width="3" height="3" fill="#00ff00"/>
<rect x="300" y="113" width="1" height="8" fill="#00ff00"/>
<rect x="299" y="116" width="3" height="5" fill="#00ff00"/>
<rect x="304" y="119" width="1" height="11" fill="#00ff00"/>
<rect x="303" y="119" width="3" height="11" fill="#00ff00"/>
<rect x="308" y="126" width="1" height="15" fill="#00ff00"/>
<rect x="307" y="129" width="3" height="11" fill="#00ff00"/>
<rect x="312" y="139" width="1" height="3" fill="#00ff00"/>
<rect x="311" y="139" width="3" height="3" fill="#00ff00"/>
<rect x="316" y="136" width="1" height="10" fill="#00ff00"/>
<rect x="315" y="139" width="3" height="5" fill="#00ff00"/>
<rect x="320" y="137" width="1" height="14" fill="#ff0000"/>
<rect x="319" y="139" width="3" height="5" fill="#ff0000"/>
<rect x="324" y="135" width="1" height="10" fill="#00ff00"/>
<rect x="323" y="140" width="3" height="1" fill="#00ff00"/>
<rect x="328" y="122" width="1" height="19" fill="#ff0000"/>
<rect x="327" y="127" width="3" height="14" fill="#ff0000"/>
<rect x="332" y="121" width="1" height="9" fill="#ff0000"/>
<rect x="331" y="125" width="3" height="3" fill="#ff0000"/>
<rect x="336" y="122" width="1" height="5" fill="#ff0000"/>
<rect x="335" y="124" width="3" height="2" fill="#ff0000"/>
<rect x="340" y="113" width="1" height="11" fill="#ff0000"/>
<rect x="339" y="114" width="3" height="10" fill="#ff0000"/>
<rect x="344" y="111" width="1" height="6" fill="#ff0000"/>
<rect x="343" y="111" width="3" height="4" fill="#ff0000"/>
<rect x="348" y="105" width="1" height="16" fill="#ff0000"/>
<rect x="347" y="107" width="3" height="4" fill="#ff0000"/>
<rect x="352" y="103" width="1" height="7" fill="#ff0000"/>
<rect x="351" y="105" width="3" height="3" fill="#ff0000"/>
<rect x="356" y="99" width="1" height="7" fill="#ff0000"/>
<rect x="355" y="101" width="3" height="4" fill="#ff0000"/>
<rect x="360" y="98" width="1" height="5" fill="#ff0000"/>
<rect x="359" y="98" width="3" height="5" fill="#ff0000"/>
<rect x="364" y="95" width="1" height="21" fill="#00ff00"/>
<rect x="363" y="96" width="3" height="19" fill="#00ff00"/>
<rect x="368" y="105" width="1" height="13" fill="#ff0000"/>
<rect x="367" y="106" width="3" height="9" fill="#ff0000"/>
<rect x="372" y="93" width="1" height="16" fill="#ff0000"/>
<rect x="371" y="94" width="3" height="12" fill="#ff0000"/>
<rect x="376" y="91" width="1" height="10" fill="#00ff00"/>
<rect x="375" y="94" width="3" height="6" fill="#00ff00"/>
<rect x="380" y="96" width="1" height="20" fill="#00ff00"/>
<rect x="379" y="99" width="3" height="15" fill="#00ff00"/>
<rect x="384" y="109" width="1" height="5" fill="#ff0000"/>
<rect x="383" y="109" width="3" height="5" fill="#ff0000"/>
<rect x="388" y="105" width="1" height="9" fill="#00ff00"/>
<rect x="387" y="107" width="3" height="7" fill="#00ff00"/>
<rect x="392" y="111" width="1" height="16" fill="#00ff00"/>
<rect x="391" y="113" width="3" height="12" fill="#00ff00"/>
<rect x="396" y="113" width="1" height="17" fill="#ff0000"/>
<rect x="395" y="114" width="3" height="11" fill="#ff0000"/>
<rect x="400" y="107" width="1" height="10" fill="#ff0000"/>
<rect x="399" y="108" width="3" height="5" fill="#ff0000"/>
<rect x="404" y="101" width="1" height="13" fill="#ff0000"/>
<rect x="403" y="103" width="3" height="7" fill="#ff0000"/>
<rect x="408" y="97" width="1" height="6" fill="#ff0000"/>
<rect x="407" y="97" width="3" height="6" fill="#ff0000"/>
<rect x="412" y="93" width="1" height="9" fill="#ff0000"/>
<rect x="411" y="94" width="3" height="5" fill="#ff0000"/>
<rect x="416" y="92" width="1" height="8" fill="#00ff00"/>
<rect x="415" y="93" width="3" height="6" fill="#00ff00"/>
<rect x="420" y="98" width="1" height="7" fill="#ff0000"/>
<rect x="419" y="99" width="3" height="2" fill="#ff0000"/>
<rect x="424" y="92" width="1" height="11" fill="#ff0000"/>
<rect x="423" y="92" width="3" height="6" fill="#ff0000"/>
<rect x="428" y="85" width="1" height="10" fill="#00ff00"/>
<rect x="427" y="92" width="3" height="1" fill="#00ff00"/>
<rect x="432" y="89" width="1" height="6" fill="#ff0000"/>
<rect x="431" y="91" width="3" height="2" fill="#ff0000"/>
<rect x="436" y="88" width="1" height="8" fill="#ff0000"/>
<rect x="435" y="91" width="3" height="2" fill="#ff0000"/>
<rect x="440" y="92" width="1" height="14" fill="#00ff00"/>
<rect x="439" y="92" width="3" height="13" fill="#00ff00"/>
<rect x="444" y="103" width="1" height="9" fill="#00ff00"/>
<rect x="443" y="103" width="3" height="8" fill="#00ff00"/>
<rect x="448" y="108" width="1" height="11" fill="#00ff00"/>
<rect x="447" y="109" width="3" height="9" fill="#00ff00"/>
<rect x="452" y="116" width="1" height="14" fill="#00ff00"/>
<rect x="451" y="116" width="3" height="14" fill="#00ff00"/>
<rect x="456" y="129" width="1" height="1" fill="#00ff00"/>
<rect x="455" y="129" width="3" height="1" fill="#00ff00"/>
<rect x="460" y="127" width="1" height="7" fill="#00ff00"/>
<rect x="459" y="128" width="3" height="2" fill="#00ff00"/>
<rect x="464" y="131" width="1" height="10" fill="#00ff00"/>
<rect x="463" y="132" width="3" height="9" fill="#00ff00"/>
<rect x="468" y="132" width="1" height="11" fill="#ff0000"/>
<rect x="467" y="135" width="3" height="5" fill="#ff0000"/>
<rect x="472" y="134" width="1" height="18" fill="#00ff00"/>
<rect x="471" y="135" width="3" height="9" fill="#00ff00"/>
<rect x="476" y="140" width="1" height="20" fill="#00ff00"/>
<rect x="475" y="140" width="3" height="19" fill="#00ff00"/>
<rect x="480" y="158" width="1" height="3" fill="#00ff00"/>
<rect x="479" y="158" width="3" height="3" fill="#00ff00"/>
<rect x="484" y="158" width="1" height="17" fill="#00ff00"/>
<rect x="483" y="162" width="3" height="3" fill="#00ff00"/>
<rect x="488" y="160" width="1" height="14" fill="#00ff00"/>
<rect x="487" y="167" width="3" height="2" fill="#00ff00"/>
<rect x="492" y="167" width="1" height="27" fill="#00ff00"/>
<rect x="491" y="167" width="3" height="6" fill="#00ff00"/>
<rect x="496" y="153" width="1" height="22" fill="#ff0000"/>
<rect x="495" y="156" width="3" height="17" fill="#ff0000"/>
<rect x="500" y="154" width="1" height="10" fill="#00ff00"/>
<rect x="499" y="156" width="3" height="5" fill="#00ff00"/>
<rect x="504" y="159" width="1" height="5" fill="#00ff00"/>
<rect x="503" y="159" width="3" height="3" fill="#00ff00"/>
<rect x="508" y="160" width="1" height="15" fill="#00ff00"/>
<rect x="507" y="167" width="3" height="5" fill="#00ff00"/>
<rect x="512" y="154" width="1" height="21" fill="#ff0000"/>
<rect x="511" y="160" width="3" height="12" fill="#ff0000"/>
<rect x="516" y="157" width="1" height="21" fill="#00ff00"/>
<rect x="515" y="160" width="3" height="16" fill="#00ff00"/>
<rect x="520" y="161" width="1" height="16" fill="#ff0000"/>
<rect x="519" y="164" width="3" height="12" fill="#ff0000"/>
<rect x="524" y="160" width="1" height="8" fill="#00ff00"/>
<rect x="523" y="164" width="3" height="2" fill="#00ff00"/>
<rect x="528" y="162" width="1" height="5" fill="#ff0000"/>
<rect x="527" y="164" width="3" height="2" fill="#ff0000"/>
<rect x="532" y="162" width="1" height="7" fill="#00ff00"/>
<rect x="531" y="163" width="3" height="4" fill="#00ff00"/>
<rect x="536" y="160" width="1" height="13" fill="#ff0000"/>
<rect x="535" y="165" width="3" height="2" fill="#ff0000"/>
<rect x="540" y="159" width="1" height="9" fill="#ff0000"/>
<rect x="539" y="161" width="3" height="4" fill="#ff0000"/>
<rect x="544" y="160" width="1" height="14" fill="#00ff00"/>
<rect x="543" y="162" width="3" height="8" fill="#00ff00"/>
<rect x="548" y="167" width="1" height="11" fill="#00ff00"/>
<rect x="547" y="168" width="3" height="7" fill="#00ff00"/>
<rect x="552" y="172" width="1" height="3" fill="#ff0000"/>
<rect x="551" y="172" width="3" height="3" fill="#ff0000"/>
<rect x="556" y="162" width="1" height="27" fill="#ff0000"/>
<rect x="555" y="164" width="3" height="25" fill="#ff0000"/>
<rect x="560" y="163" width="1" height="12" fill="#00ff00"/>
<rect x="559" y="164" width="3" height="7" fill="#00ff00"/>
<rect x="564" y="169" width="1" height="9" fill="#00ff00"/>
<rect x="563" y="171" width="3" height="4" fill="#00ff00"/>
<rect x="568" y="173" width="1" height="10" fill="#00ff00"/>
<rect x="567" y="174" width="3" height="5" fill="#00ff00"/>
<rect x="572" y="176" width="1" height="10" fill="#00ff00"/>
<rect x="571" y="177" width="3" height="3" fill="#00ff00"/>
<rect x="576" y="178" width="1" height="5" fill="#00ff00"/>
<rect x="575" y="179" width="3" height="1" fill="#00ff00"/>
<rect x="580" y="178" width="1" height="7" fill="#00ff00"/>
<rect x="579" y="179" width="3" height="4" fill="#00ff00"/>
<rect x="584" y="171" width="1" height="20" fill="#ff0000"/>
<rect x="583" y="171" width="3" height="12" fill="#ff0000"/>
<rect x="588" y="159" width="1" height="14" fill="#ff0000"/>
<rect x="587" y="160" width="3" height="12" fill="#ff0000"/>
<rect x="592" y="151" width="1" height="11" fill="#ff0000"/>
<rect x="591" y="154" width="3" height="7" fill="#ff0000"/>
<rect x="596" y="142" width="1" height="16" fill="#ff0000"/>
<rect x="595" y="144" width="3" height="11" fill="#ff0000"/>
<rect x="600" y="143" width="1" height="5" fill="#00ff00"/>
<rect x="599" y="144" width="3" height="3" fill="#00ff00"/>
<rect x="604" y="138" width="1" height="10" fill="#ff0000"/>
<rect x="603" y="139" width="3" height="8" fill="#ff0000"/>
<rect x="608" y="138" width="1" height="9" fill="#00ff00"/>
<rect x="607" y="139" width="3" height="2" fill="#00ff00"/>
<rect x="612" y="136" width="1" height="11" fill="#00ff00"/>
<rect x="611" y="140" width="3" height="2" fill="#00ff00"/>
<rect x="616" y="133" width="1" height="12" fill="#ff0000"/>
<rect x="615" y="139" width="3" height="5" fill="#ff0000"/>
<rect x="620" y="134" width="1" height="10" fill="#ff0000"/>
<rect x="619" y="135" width="3" height="4" fill="#ff0000"/>
<rect x="624" y="135" width="1" height="3" fill="#00ff00"/>
<rect x="623" y="135" width="3" height="3" fill="#00ff00"/>
<rect x="628" y="136" width="1" height="9" fill="#00ff00"/>
<rect x="627" y="137" width="3" height="4" fill="#00ff00"/>
<rect x="632" y="140" width="1" height="12" fill="#00ff00"/>
<rect x="631" y="141" width="3" height="3" fill="#00ff00"/>
<rect x="636" y="142" width="1" height="10" fill="#00ff00"/>
<rect x="635" y="143" width="3" height="4" fill="#00ff00"/>
<rect x="640" y="143" width="1" height="22" fill="#00ff00"/>
<rect x="639" y="147" width="3" height="17" fill="#00ff00"/>
<rect x="644" y="157" width="1" height="12" fill="#00ff00"/>
<rect x="643" y="160" width="3" height="9" fill="#00ff00"/>
<rect x="648" y="167" width="1" height="4" fill="#00ff00"/>
<rect x="647" y="168" width="3" height="2" fill="#00ff00"/>
<rect x="652" y="164" width="1" height="6" fill="#ff0000"/>
<rect x="651" y="165" width="3" height="4" fill="#ff0000"/>
<rect x="656" y="158" width="1" height="12" fill="#ff0000"/>
<rect x="655" y="161" width="3" height="6" fill="#ff0000"/>
<rect x="660" y="158" width="1" height="19" fill="#00ff00"/>
<rect x="659" y="160" width="3" height="14" fill="#00ff00"/>
<rect x="664" y="164" width="1" height="11" fill="#ff0000"/>
<rect x="663" y="170" width="3" height="4" fill="#ff0000"/>
<rect x="668" y="167" width="1" height="9" fill="#ff0000"/>
<rect x="667" y="170" width="3" height="3" fill="#ff0000"/>
<rect x="672" y="169" width="1" height="4" fill="#00ff00"/>
<rect x="671" y="169" width="3" height="2" fill="#00ff00"/>
<rect x="676" y="167" width="1" height="9" fill="#00ff00"/>
<rect x="675" y="170" width="3" height="5" fill="#00ff00"/>
<rect x="680" y="167" width="1" height="27" fill="#00ff00"/>
<rect x="679" y="174" width="3" height="13" fill="#00ff00"/>
<rect x="684" y="182" width="1" height="12" fill="#00ff00"/>
<rect x="683" y="186" width="3" height="2" fill="#00ff00"/>
<rect x="688" y="172" width="1" height="18" fill="#ff0000"/>
<rect x="687" y="173" width="3" height="15" fill="#ff0000"/>
<rect x="692" y="168" width="1" height="9" fill="#ff0000"/>
<rect x="691" y="169" width="3" height="5" fill="#ff0000"/>
<rect x="696" y="166" width="1" height="5" fill="#ff0000"/>
<rect x="695" y="167" width="3" height="3" fill="#ff0000"/>
<rect x="700" y="169" width="1" height="10" fill="#00ff00"/>
<rect x="699" y="170" width="3" height="6" fill="#00ff00"/>
<rect x="704" y="171" width="1" height="10" fill="#00ff00"/>
<rect x="703" y="175" width="3" height="6" fill="#00ff00"/>
<rect x="708" y="173" width="1" height="9" fill="#ff0000"/>
<rect x="707" y="179" width="3" height="2" fill="#ff0000"/>
<rect x="712" y="168" width="1" height="17" fill="#ff0000"/>
<rect x="711" y="168" width="3" height="12" fill="#ff0000"/>
<rect x="716" y="156" width="1" height="16" fill="#ff0000"/>
<rect x="715" y="157" width="3" height="12" fill="#ff0000"/>
<rect x="720" y="157" width="1" height="5" fill="#00ff00"/>
<rect x="719" y="157" width="3" height="3" fill="#00ff00"/>
<rect x="724" y="159" width="1" height="15" fill="#00ff00"/>
<rect x="723" y="160" width="3" height="9" fill="#00ff00"/>
<rect x="728" y="162" width="1" height="14" fill="#00ff00"/>
<rect x="727" y="168" width="3" height="4" fill="#00ff00"/>
<rect x="732" y="170" width="1" height="11" fill="#00ff00"/>
<rect x="731" y="171" width="3" height="1" fill="#00ff00"/>
<rect x="736" y="150" width="1" height="23" fill="#ff0000"/>
<rect x="735" y="152" width="3" height="21" fill="#ff0000"/>
<rect x="740" y="145" width="1" height="10" fill="#ff0000"/>
<rect x="739" y="146" width="3" height="7" fill="#ff0000"/>
<rect x="744" y="144" width="1" height="5" fill="#ff0000"/>
<rect x="743" y="144" width="3" height="4" fill="#ff0000"/>
<rect x="748" y="137" width="1" height="11" fill="#ff0000"/>
<rect x="747" y="140" width="3" height="7" fill="#ff0000"/>
<rect x="752" y="136" width="1" height="9" fill="#00ff00"/>
<rect x="751" y="140" width="3" height="3" fill="#00ff00"/>
<rect x="756" y="140" width="1" height="11" fill="#00ff00"/>
<rect x="755" y="141" width="3" height="6" fill="#00ff00"/>
<rect x="760" y="143" width="1" height="13" fill="#00ff00"/>
<rect x="759" y="146" width="3" height="10" fill="#00ff00"/>
<rect x="764" y="149" width="1" height="9" fill="#ff0000"/>
<rect x="763" y="151" width="3" height="5" fill="#ff0000"/>
<rect x="768" y="151" width="1" height="3" fill="#00ff00"/>
<rect x="767" y="151" width="3" height="3" fill="#00ff00"/>
<rect x="772" y="148" width="1" height="9" fill="#ff0000"/>
<rect x="771" y="148" width="3" height="6" fill="#ff0000"/>
<rect x="776" y="139" width="1" height="11" fill="#ff0000"/>
<rect x="775" y="142" width="3" height="7" fill="#ff0000"/>
<rect x="780" y="138" width="1" height="9" fill="#ff0000"/>
<rect x="779" y="139" width="3" height="4" fill="#ff0000"/>
<rect x="784" y="123" width="1" height="24" fill="#ff0000"/>
<rect x="783" y="135" width="3" height="5" fill="#ff0000"/>
<rect x="788" y="126" width="1" height="11" fill="#ff0000"/>
<rect x="787" y="128" width="3" height="8" fill="#ff0000"/>
<rect x="792" y="127" width="1" height="3" fill="#00ff00"/>
<rect x="791" y="128" width="3" height="2" fill="#00ff00"/>
<rect x="796" y="125" width="1" height="6" fill="#00ff00"/>
<rect x="795" y="129" width="3" height="1" fill="#00ff00"/>
<rect x="800" y="124" width="1" height="15" fill="#00ff00"/>
<rect x="799" y="132" width="3" height="3" fill="#00ff00"/>
<rect x="804" y="129" width="1" height="8" fill="#00ff00"/>
<rect x="803" y="133" width="3" height="2" fill="#00ff00"/>
<rect x="808" y="128" width="1" height="15" fill="#00ff00"/>
<rect x="807" y="134" width="3" height="2" fill="#00ff00"/>
<rect x="812" y="128" width="1" height="18" fill="#00ff00"/>
<rect x="811" y="134" width="3" height="10" fill="#00ff00"/>
<rect x="816" y="143" width="1" height="4" fill="#00ff00"/>
<rect x="815" y="143" width="3" height="1" fill="#00ff00"/>
<rect x="820" y="140" width="1" height="7" fill="#00ff00"/>
<rect x="819" y="144" width="3" height="2" fill="#00ff00"/>
<rect x="824" y="144" width="1" height="7" fill="#00ff00"/>
<rect x="823" y="146" width="3" height="2" fill="#00ff00"/>
<rect x="828" y="143" width="1" height="11" fill="#00ff00"/>
<rect x="827" y="148" width="3" height="3" fill="#00ff00"/>
<rect x="832" y="150" width="1" height="19" fill="#00ff00"/>
<rect x="831" y="151" width="3" height="14" fill="#00ff00"/>
<rect x="836" y="155" width="1" height="13" fill="#ff0000"/>
<rect x="835" y="156" width="3" height="9" fill="#ff0000"/>
<rect x="840" y="155" width="1" height="3" fill="#ff0000"/>
<rect x="839" y="155" width="3" height="2" fill="#ff0000"/>
<rect x="844" y="154" width="1" height="6" fill="#ff0000"/>
<rect x="843" y="155" width="3" height="1" fill="#ff0000"/>
<rect x="848" y="150" width="1" height="14" fill="#ff0000"/>
<rect x="847" y="152" width="3" height="4" fill="#ff0000"/>
<rect x="852" y="150" width="1" height="10" fill="#00ff00"/>
<rect x="851" y="152" width="3" height="7" fill="#00ff00"/>
<rect x="856" y="155" width="1" height="9" fill="#00ff00"/>
<rect x="855" y="157" width="3" height="4" fill="#00ff00"/>
<rect x="860" y="159" width="1" height="6" fill="#00ff00"/>
<rect x="859" y="160" width="3" height="4" fill="#00ff00"/>
<rect x="864" y="163" width="1" height="2" fill="#00ff00"/>
<rect x="863" y="163" width="3" height="2" fill="#00ff00"/>
<rect x="868" y="159" width="1" height="8" fill="#00ff00"/>
<rect x="867" y="162" width="3" height="5" fill="#00ff00"/>
<rect x="872" y="160" width="1" height="9" fill="#ff0000"/>
<rect x="871" y="164" width="3" height="4" fill="#ff0000"/>
<rect x="876" y="162" width="1" height="5" fill="#00ff00"/>
<rect x="875" y="165" width="3" height="1" fill="#00ff00"/>
<rect x="880" y="164" width="1" height="7" fill="#00ff00"/>
<rect x="879" y="167" width="3" height="3" fill="#00ff00"/>
<rect x="884" y="168" width="1" height="3" fill="#00ff00"/>
<rect x="883" y="169" width="3" height="1" fill="#00ff00"/>
<rect x="888" y="169" width="1" height="4" fill="#00ff00"/>
<rect x="887" y="169" width="3" height="1" fill="#00ff00"/>
<rect x="892" y="154" width="1" height="17" fill="#ff0000"/>
<rect x="891" y="156" width="3" height="14" fill="#ff0000"/>
<rect x="896" y="142" width="1" height="15" fill="#ff0000"/>
<rect x="895" y="149" width="3" height="7" fill="#ff0000"/>
<rect x="900" y="144" width="1" height="13" fill="#ff0000"/>
<rect x="899" y="145" width="3" height="5" fill="#ff0000"/>
<rect x="904" y="144" width="1" height="9" fill="#00ff00"/>
<rect x="903" y="145" width="3" height="8" fill="#00ff00"/>
<rect x="908" y="143" width="1" height="10" fill="#ff0000"/>
<rect x="907" y="151" width="3" height="2" fill="#ff0000"/>
<rect x="912" y="147" width="1" height="5" fill="#ff0000"/>
<rect x="911" y="149" width="3" height="2" fill="#ff0000"/>
<rect x="916" y="149" width="1" height="5" fill="#00ff00"/>
<rect x="915" y="149" width="3" height="3" fill="#00ff00"/>
<rect x="920" y="149" width="1" height="11" fill="#00ff00"/>
<rect x="919" y="152" width="3" height="6" fill="#00ff00"/>
<rect x="924" y="144" width="1" height="15" fill="#ff0000"/>
<rect x="923" y="145" width="3" height="13" fill="#ff0000"/>
<rect x="928" y="129" width="1" height="17" fill="#ff0000"/>
<rect x="927" y="130" width="3" height="16" fill="#ff0000"/>
<rect x="932" y="121" width="1" height="20" fill="#00ff00"/>
<rect x="931" y="132" width="3" height="8" fill="#00ff00"/>
<rect x="936" y="137" width="1" height="5" fill="#00ff00"/>
<rect x="935" y="138" width="3" height="3" fill="#00ff00"/>
<rect x="940" y="132" width="1" height="9" fill="#ff0000"/>
<rect x="939" y="133" width="3" height="7" fill="#ff0000"/>
<rect x="944" y="132" width="1" height="18" fill="#00ff00"/>
<rect x="943" y="133" width="3" height="12" fill="#00ff00"/>
<rect x="948" y="141" width="1" height="8" fill="#ff0000"/>
<rect x="947" y="142" width="3" height="4" fill="#ff0000"/>
<rect x="952" y="136" width="1" height="11" fill="#ff0000"/>
<rect x="951" y="139" width="3" height="4" fill="#ff0000"/>
<rect x="956" y="132" width="1" height="7" fill="#ff0000"/>
<rect x="955" y="132" width="3" height="5" fill="#ff0000"/>
<rect x="960" y="132" width="1" height="1" fill="#00ff00"/>
<rect x="959" y="132" width="3" height="1" fill="#00ff00"/>
<rect x="964" y="124" width="1" height="10" fill="#ff0000"/>
<rect x="963" y="127" width="3" height="7" fill="#ff0000"/>
<rect x="968" y="123" width="1" height="6" fill="#ff0000"/>
<rect x="967" y="124" width="3" height="4" fill="#ff0000"/>
<rect x="972" y="123" width="1" height="3" fill="#00ff00"/>
<rect x="971" y="123" width="3" height="3" fill="#00ff00"/>
<rect x="976" y="120" width="1" height="7" fill="#ff0000"/>
<rect x="975" y="121" width="3" height="5" fill="#ff0000"/>
<rect x="980" y="108" width="1" height="14" fill="#ff0000"/>
<rect x="979" y="109" width="3" height="12" fill="#ff0000"/>
<rect x="984" y="108" width="1" height="3" fill="#00ff00"/>
<rect x="983" y="108" width="3" height="3" fill="#00ff00"/>
<rect x="988" y="104" width="1" height="7" fill="#ff0000"/>
<rect x="987" y="105" width="3" height="5" fill="#ff0000"/>
<rect x="992" y="96" width="1" height="11" fill="#ff0000"/>
<rect x="991" y="96" width="3" height="10" fill="#ff0000"/>
<rect x="996" y="95" width="1" height="6" fill="#00ff00"/>
<rect x="995" y="96" width="3" height="4" fill="#00ff00"/>
<rect x="1000" y="98" width="1" height="12" fill="#00ff00"/>
<rect x="999" y="103" width="3" height="1" fill="#00ff00"/>
<rect x="1004" y="104" width="1" height="20" fill="#00ff00"/>
<rect x="1003" y="104" width="3" height="13" fill="#00ff00"/>
<rect x="1008" y="114" width="1" height="4" fill="#ff0000"/>
<rect x="1007" y="115" width="3" height="2" fill="#ff0000"/>
<rect x="1012" y="116" width="1" height="10" fill="#00ff00"/>
<rect x="1011" y="122" width="3" height="2" fill="#00ff00"/>
<rect x="1016" y="122" width="1" height="21" fill="#00ff00"/>
<rect x="1015" y="122" width="3" height="19" fill="#00ff00"/>
<rect x="1020" y="136" width="1" height="11" fill="#00ff00"/>
<rect x="1019" y="139" width="3" height="6" fill="#00ff00"/>
<rect x="1024" y="137" width="1" height="10" fill="#00ff00"/>
<rect x="1023" y="144" width="3" height="1" fill="#00ff00"/>
<rect x="1028" y="130" width="1" height="16" fill="#ff0000"/>
<rect x="1027" y="130" width="3" height="15" fill="#ff0000"/>
<rect x="1032" y="129" width="1" height="5" fill="#ff0000"/>
<rect x="1031" y="129" width="3" height="3" fill="#ff0000"/>
<rect x="1036" y="126" width="1" height="8" fill="#ff0000"/>
<rect x="1035" y="129" width="3" height="4" fill="#ff0000"/>
<rect x="1040" y="128" width="1" height="9" fill="#00ff00"/>
<rect x="1039" y="132" width="3" height="1" fill="#00ff00"/>
<rect x="1044" y="132" width="1" height="7" fill="#ff0000"/>
<rect x="1043" y="134" width="3" height="1" fill="#ff0000"/>
<rect x="1048" y="122" width="1" height="13" fill="#00ff00"/>
<rect x="1047" y="132" width="3" height="2" fill="#00ff00"/>
<rect x="1052" y="128" width="1" height="12" fill="#00ff00"/>
<rect x="1051" y="130" width="3" height="8" fill="#00ff00"/>
<rect x="1056" y="137" width="1" height="2" fill="#00ff00"/>
<rect x="1055" y="137" width="3" height="2" fill="#00ff00"/>
<rect x="1060" y="135" width="1" height="10" fill="#00ff00"/>
<rect x="1059" y="138" width="3" height="4" fill="#00ff00"/>
<rect x="1064" y="139" width="1" height="9" fill="#00ff00"/>
<rect x="1063" y="141" width="3" height="3" fill="#00ff00"/>
<rect x="1068" y="141" width="1" height="12" fill="#00ff00"/>
<rect x="1067" y="142" width="3" height="8" fill="#00ff00"/>
<rect x="1072" y="140" width="1" height="11" fill="#ff0000"/>
<rect x="1071" y="145" width="3" height="4" fill="#ff0000"/>
<rect x="1076" y="143" width="1" height="12" fill="#00ff00"/>
<rect x="1075" y="146" width="3" height="7" fill="#00ff00"/>
<rect x="1080" y="151" width="1" height="3" fill="#00ff00"/>
<rect x="1079" y="151" width="3" height="3" fill="#00ff00"/>
<rect x="1084" y="155" width="1" height="18" fill="#00ff00"/>
<rect x="1083" y="155" width="3" height="16" fill="#00ff00"/>
<rect x="1088" y="169" width="1" height="9" fill="#00ff00"/>
<rect x="1087" y="169" width="3" height="5" fill="#00ff00"/>
<rect x="1092" y="167" width="1" height="11" fill="#00ff00"/>
<rect x="1091" y="171" width="3" height="6" fill="#00ff00"/>
<rect x="1096" y="169" width="1" height="19" fill="#00ff00"/>
<rect x="1095" y="176" width="3" height="10" fill="#00ff00"/>
<rect x="1100" y="178" width="1" height="14" fill="#00ff00"/>
<rect x="1099" y="185" width="3" height="4" fill="#00ff00"/>
<rect x="1104" y="186" width="1" height="5" fill="#ff0000"/>
<rect x="1103" y="188" width="3" height="1" fill="#ff0000"/>
<rect x="1108" y="185" width="1" height="7" fill="#ff0000"/>
<rect x="1107" y="188" width="3" height="4" fill="#ff0000"/>
<rect x="1112" y="177" width="1" height="17" fill="#ff0000"/>
<rect x="1111" y="180" width="3" height="9" fill="#ff0000"/>
<rect x="1116" y="167" width="1" height="14" fill="#ff0000"/>
<rect x="1115" y="175" width="3" height="5" fill="#ff0000"/>
<rect x="1120" y="169" width="1" height="10" fill="#00ff00"/>
<rect x="1119" y="174" width="3" height="3" fill="#00ff00"/>
<rect x="1124" y="175" width="1" height="23" fill="#00ff00"/>
<rect x="1123" y="176" width="3" height="16" fill="#00ff00"/>
<rect x="1128" y="190" width="1" height="4" fill="#00ff00"/>
<rect x="1127" y="190" width="3" height="4" fill="#00ff00"/>
<rect x="1132" y="186" width="1" height="11" fill="#ff0000"/>
<rect x="1131" y="192" width="3" height="2" fill="#ff0000"/>
<rect x="1136" y="177" width="1" height="17" fill="#ff0000"/>
<rect x="1135" y="181" width="3" height="12" fill="#ff0000"/>
<rect x="1140" y="173" width="1" height="13" fill="#ff0000"/>
<rect x="1139" y="173" width="3" height="9" fill="#ff0000"/>
<rect x="1144" y="173" width="1" height="13" fill="#00ff00"/>
<rect x="1143" y="173" width="3" height="6" fill="#00ff00"/>
<rect x="1148" y="177" width="1" height="6" fill="#00ff00"/>
<rect x="1147" y="178" width="3" height="3" fill="#00ff00"/>
<rect x="1152" y="181" width="1" height="3" fill="#00ff00"/>
<rect x="1151" y="181" width="3" height="3" fill="#00ff00"/>
<rect x="1156" y="178" width="1" height="5" fill="#00ff00"/>
<rect x="1155" y="180" width="3" height="3" fill="#00ff00"/>
<rect x="1160" y="181" width="1" height="13" fill="#00ff00"/>
<rect x="1159" y="183" width="3" height="6" fill="#00ff00"/>
<rect x="1164" y="185" width="1" height="12" fill="#00ff00"/>
<rect x="1163" y="187" width="3" height="7" fill="#00ff00"/>
<rect x="1168" y="189" width="1" height="22" fill="#00ff00"/>
<rect x="1167" y="194" width="3" height="14" fill="#00ff00"/>
<rect x="1172" y="204" width="1" height="15" fill="#ff0000"/>
<rect x="1171" y="205" width="3" height="3" fill="#ff0000"/>
<rect x="1176" y="204" width="1" height="4" fill="#00ff00"/>
<rect x="1175" y="206" width="3" height="1" fill="#00ff00"/>
<rect x="1180" y="209" width="1" height="10" fill="#ff0000"/>
<rect x="1179" y="210" width="3" height="6" fill="#ff0000"/>
<rect x="1184" y="209" width="1" height="10" fill="#00ff00"/>
<rect x="1183" y="210" width="3" height="4" fill="#00ff00"/>
<rect x="1188" y="214" width="1" height="15" fill="#00ff00"/>
<rect x="1187" y="214" width="3" height="14" fill="#00ff00"/>
<rect x="1192" y="217" width="1" height="14" fill="#ff0000"/>
<rect x="1191" y="221" width="3" height="7" fill="#ff0000"/>
<rect x="1196" y="217" width="1" height="43" fill="#00ff00"/>
<rect x="1195" y="221" width="3" height="33" fill="#00ff00"/>
<rect x="1200" y="235" width="1" height="24" fill="#ff0000"/>
<rect x="1199" y="236" width="3" height="18" fill="#ff0000"/>
<rect x="1204" y="223" width="1" height="26" fill="#ff0000"/>
<rect x="1203" y="237" width="3" height="9" fill="#ff0000"/>
<rect x="1208" y="202" width="1" height="38" fill="#ff0000"/>
<rect x="1207" y="208" width="3" height="30" fill="#ff0000"/>
<rect x="1212" y="207" width="1" height="15" fill="#00ff00"/>
<rect x="1211" y="208" width="3" height="3" fill="#00ff00"/>
<rect x="1216" y="204" width="1" height="16" fill="#00ff00"/>
<rect x="1215" y="209" width="3" height="5" fill="#00ff00"/>
<rect x="1220" y="199" width="1" height="21" fill="#ff0000"/>
<rect x="1219" y="206" width="3" height="8" fill="#ff0000"/>
<rect x="1224" y="203" width="1" height="4" fill="#ff0000"/>
<rect x="1223" y="203" width="3" height="4" fill="#ff0000"/>
<rect x="1228" y="191" width="1" height="105" fill="#ff0000"/>
<rect x="1227" y="199" width="3" height="16" fill="#ff0000"/>
<rect x="1232" y="198" width="1" height="54" fill="#00ff00"/>
<rect x="1231" y="199" width="3" height="52" fill="#00ff00"/>
<rect x="1236" y="231" width="1" height="22" fill="#ff0000"/>
<rect x="1235" y="239" width="3" height="12" fill="#ff0000"/>
<rect x="1240" y="240" width="1" height="68" fill="#00ff00"/>
<rect x="1239" y="240" width="3" height="64" fill="#00ff00"/>
<rect x="1244" y="274" width="1" height="65" fill="#00ff00"/>
<rect x="1243" y="303" width="3" height="33" fill="#00ff00"/>
<rect x="1248" y="329" width="1" height="18" fill="#00ff00"/>
<rect x="1247" y="336" width="3" height="6" fill="#00ff00"/>
<rect x="1252" y="320" width="1" height="39" fill="#00ff00"/>
<rect x="1251" y="334" width="3" height="10" fill="#00ff00"/>
<rect x="1256" y="344" width="1" height="49" fill="#00ff00"/>
<rect x="1255" y="344" width="3" height="42" fill="#00ff00"/>
<rect x="1260" y="373" width="1" height="60" fill="#00ff00"/>
<rect x="1259" y="387" width="3" height="44" fill="#00ff00"/>
<rect x="1264" y="390" width="1" height="127" fill="#ff0000"/>
<rect x="1263" y="421" width="3" height="10" fill="#ff0000"/>
<rect x="1268" y="412" width="1" height="62" fill="#00ff00"/>
<rect x="1267" y="421" width="3" height="13" fill="#00ff00"/>
<path fill="#1e90ff" d="M5 575h4v1h-4zM9 576h1v1h-1zM10 577h2v1h-2zM12 578h1v1h-1zM13 577h1v1h-1zM14 576h1v1h-1zM15 575h1v1h-1zM16 574h1v1h-1zM17 575h2v1h-2zM19 576h1v1h-1zM20 577h2v1h-2zM22 578h1v1h-1zM23 579h1v1h-1zM24 578h1v2h-1zM25 577h1v1h-1zM26 575h1v2h-1zM27 574h1v1h-1zM28 573h1v1h-1zM29 572h1v1h-1zM30 571h1v1h-1zM31 570h1v1h-1zM32 569h1v2h-1zM33 571h1v3h-1zM34 574h1v3h-1zM35 577h1v3h-1zM36 580h1v2h-1zM37 580h2v1h-2zM39 579h2v1h-2zM41 578h1v1h-1zM42 577h1v1h-1zM43 576h1v1h-1zM44 575h2v1h-2zM46 576h3v1h-3zM49 575h1v1h-1zM50 574h2v1h-2zM52 573h1v2h-1zM53 575h1v3h-1zM54 578h1v2h-1zM55 580h1v1h-1zM56 581h1v1h-1zM57 579h1v2h-1zM58 577h1v2h-1zM59 575h1v2h-1zM60 574h1v1h-1zM61 573h1v1h-1zM62 574h2v1h-2zM64 575h3v1h-3zM67 576h6v1h-6zM73 575h2v1h-2zM75 574h1v1h-1zM76 573h3v1h-3zM79 572h2v1h-2zM81 571h1v1h-1zM82 570h1v1h-1zM83 569h1v1h-1zM84 568h1v1h-1zM85 569h1v2h-1zM86 571h1v1h-1zM87 572h1v1h-1zM88 572h1v2h-1zM89 571h1v1h-1zM90 569h1v2h-1zM91 568h1v1h-1zM92 567h2v1h-2zM94 568h4v1h-4zM98 567h6v1h-6zM104 568h2v1h-2zM106 569h2v1h-2zM108 570h1v1h-1zM109 571h1v1h-1zM110 572h2v1h-2zM112 573h9v1h-9zM121 574h2v1h-2zM123 575h1v1h-1zM124 576h1v1h-1zM125 577h1v2h-1zM126 579h1v2h-1zM127 581h1v2h-1zM128 583h1v2h-1zM129 585h1v2h-1zM130 587h1v2h-1zM131 589h1v2h-1zM132 591h1v1h-1zM133 592h2v1h-2zM135 593h2v1h-2zM137 591h1v2h-1zM138 589h1v2h-1zM139 587h1v2h-1zM140 586h2v1h-2zM142 587h3v1h-3zM145 586h1v1h-1zM146 585h2v1h-2zM148 584h2v1h-2zM150 585h2v1h-2zM152 586h5v1h-5zM157 587h1v1h-1zM158 588h1v1h-1zM159 589h1v2h-1zM160 591h1v1h-1zM161 590h1v1h-1zM162 589h1v1h-1zM163 588h1v1h-1zM164 587h4v1h-4zM168 588h2v1h-2zM170 589h2v1h-2zM172 590h1v1h-1zM173 589h2v1h-2zM175 588h6v1h-6zM181 589h1v1h-1zM182 590h1v1h-1zM183 591h1v1h-1zM184 592h1v1h-1zM185 591h1v1h-1zM186 589h1v2h-1zM187 588h1v1h-1zM188 587h5v1h-5zM193 588h1v1h-1zM194 589h1v2h-1zM195 591h1v1h-1zM196 592h1v1h-1zM197 593h3v1h-3zM200 594h3v1h-3zM203 595h2v1h-2zM205 596h2v1h-2zM207 597h1v1h-1zM208 598h2v1h-2zM210 599h1v1h-1zM211 600h1v1h-1zM212 601h4v1h-4zM216 599h1v2h-1zM217 596h1v3h-1zM218 593h1v3h-1zM219 591h1v2h-1zM220 590h1v1h-1zM221 591h1v1h-1zM222 592h1v1h-1zM223 593h1v1h-1zM224 594h2v1h-2zM226 593h3v1h-3zM229 592h1v1h-1zM230 591h1v1h-1zM231 590h1v1h-1zM232 589h1v1h-1zM233 588h1v1h-1zM234 587h1v1h-1zM235 586h1v1h-1zM236 585h2v1h-2zM238 584h1v1h-1zM239 583h1v1h-1zM240 582h2v1h-2zM242 583h2v1h-2zM244 584h1v1h-1zM245 583h2v1h-2zM247 582h3v1h-3zM250 583h2v1h-2zM252 584h5v1h-5zM257 583h1v1h-1zM258 582h1v1h-1zM259 581h1v1h-1zM260 580h2v1h-2zM262 579h1v1h-1zM263 578h1v1h-1zM264 577h2v1h-2zM266 576h2v1h-2zM268 575h1v1h-1zM269 573h1v2h-1zM270 572h1v1h-1zM271 571h1v1h-1zM272 570h1v1h-1zM273 571h2v1h-2zM275 572h1v1h-1zM276 573h1v1h-1zM277 572h2v1h-2zM279 571h2v1h-2zM281 570h1v1h-1zM282 569h2v1h-2zM284 568h4v1h-4zM288 569h1v2h-1zM289 571h1v2h-1zM290 573h1v2h-1zM291 575h1v1h-1zM292 576h2v1h-2zM294 577h3v1h-3zM297 578h1v1h-1zM298 579h2v1h-2zM300 580h1v1h-1zM301 581h1v2h-1zM302 583h1v1h-1zM303 584h1v1h-1zM304 585h1v2h-1zM305 587h1v1h-1zM306 588h1v1h-1zM307 589h1v1h-1zM308 590h4v1h-4zM312 591h3v1h-3zM315 592h2v1h-2zM317 591h1v1h-1zM318 590h2v1h-2zM320 589h4v1h-4zM324 588h1v2h-1zM325 585h1v3h-1zM326 583h1v2h-1zM327 581h1v2h-1zM328 580h1v1h-1zM329 579h1v1h-1zM330 578h3v1h-3zM333 577h3v1h-3zM336 576h1v2h-1zM337 574h1v2h-1zM338 572h1v2h-1zM339 571h1v1h-1zM340 570h1v1h-1zM341 569h2v1h-2zM343 568h1v1h-1zM344 567h2v1h-2zM346 566h2v1h-2zM348 565h5v1h-5zM353 564h2v1h-2zM355 563h3v1h-3zM358 562h2v1h-2zM360 562h1v3h-1zM361 565h1v3h-1zM362 568h1v3h-1zM363 571h1v3h-1zM364 574h1v2h-1zM365 573h1v1h-1zM366 572h1v1h-1zM367 570h1v2h-1zM368 569h1v1h-1zM369 568h1v1h-1zM370 567h1v1h-1zM371 566h1v1h-1zM372 565h2v1h-2zM374 566h2v1h-2zM376 567h1v2h-1zM377 569h1v2h-1zM378 571h1v2h-1zM379 573h1v2h-1zM380 575h3v1h-3zM383 574h3v1h-3zM386 575h1v1h-1zM387 576h1v1h-1zM388 576h1v2h-1zM389 578h1v1h-1zM390 579h1v2h-1zM391 581h1v1h-1zM392 581h1v2h-1zM393 580h1v1h-1zM394 579h1v1h-1zM395 578h1v1h-1zM396 577h1v1h-1zM397 576h1v1h-1zM398 575h2v1h-2zM400 574h1v1h-1zM401 573h2v1h-2zM403 572h1v1h-1zM404 571h1v1h-1zM405 570h2v1h-2zM407 569h2v1h-2zM409 568h2v1h-2zM411 567h2v1h-2zM413 568h1v1h-1zM414 569h2v1h-2zM416 570h5v1h-5zM421 569h1v1h-1zM422 568h1v1h-1zM423 567h13v1h-13zM436 567h1v2h-1zM437 569h1v2h-1zM438 571h1v2h-1zM439 573h1v2h-1zM440 575h1v2h-1zM441 577h1v1h-1zM442 578h1v1h-1zM443 579h1v1h-1zM444 580h1v1h-1zM445 581h1v1h-1zM446 582h1v1h-1zM447 583h1v1h-1zM448 584h1v2h-1zM449 586h1v1h-1zM450 587h1v2h-1zM451 589h1v1h-1zM452 590h9v1h-9zM461 591h1v1h-1zM462 592h1v1h-1zM463 593h3v1h-3zM466 592h1v1h-1zM467 591h1v1h-1zM468 590h1v1h-1zM469 591h2v1h-2zM471 592h1v1h-1zM472 593h1v1h-1zM473 594h1v2h-1zM474 596h1v1h-1zM475 597h1v1h-1zM476 598h3v1h-3zM479 599h4v1h-4zM483 600h4v1h-4zM487 601h4v1h-4zM491 602h1v1h-1zM492 600h1v2h-1zM493 597h1v3h-1zM494 594h1v3h-1zM495 591h1v3h-1zM496 589h1v2h-1zM497 589h1v1h-1zM498 590h1v1h-1zM499 591h6v1h-6zM505 592h1v1h-1zM506 593h1v1h-1zM507 594h1v1h-1zM508 593h1v2h-1zM509 591h1v2h-1zM510 589h1v2h-1zM511 588h1v1h-1zM512 587h1v2h-1zM513 589h1v1h-1zM514 590h1v1h-1zM515 591h1v1h-1zM516 590h1v2h-1zM517 589h1v1h-1zM518 587h1v2h-1zM519 586h1v1h-1zM520 585h2v1h-2zM522 586h4v1h-4zM526 585h3v1h-3zM529 586h3v1h-3zM532 587h2v1h-2zM534 586h3v1h-3zM537 585h1v1h-1zM538 584h1v1h-1zM539 583h2v1h-2zM541 584h1v1h-1zM542 585h1v1h-1zM543 586h1v1h-1zM544 587h2v1h-2zM546 588h4v1h-4zM550 587h3v1h-3zM553 585h1v2h-1zM554 584h1v1h-1zM555 583h1v1h-1zM556 582h2v1h-2zM558 583h1v1h-1zM559 584h1v1h-1zM560 585h2v1h-2zM562 586h2v1h-2zM564 587h3v1h-3zM567 588h4v1h-4zM571 589h7v1h-7zM578 590h2v1h-2zM580 590h1v2h-1zM581 587h1v3h-1zM582 585h1v2h-1zM583 582h1v3h-1zM584 580h1v2h-1zM585 578h1v2h-1zM586 577h1v1h-1zM587 575h1v2h-1zM588 574h1v1h-1zM589 573h1v1h-1zM590 572h2v1h-2zM592 571h1v1h-1zM593 569h1v2h-1zM594 568h1v1h-1zM595 567h1v1h-1zM596 566h3v1h-3zM599 567h1v1h-1zM600 566h2v1h-2zM602 565h1v1h-1zM603 564h3v1h-3zM606 565h2v1h-2zM608 566h2v1h-2zM610 567h2v1h-2zM612 568h1v1h-1zM613 567h2v1h-2zM615 566h2v1h-2zM617 565h2v1h-2zM619 564h4v1h-4zM623 565h2v1h-2zM625 566h1v1h-1zM626 567h1v1h-1zM627 568h1v1h-1zM628 569h3v1h-3zM631 570h2v1h-2zM633 571h1v1h-1zM634 572h1v1h-1zM635 573h1v2h-1zM636 575h1v2h-1zM637 577h1v2h-1zM638 579h1v2h-1zM639 581h1v1h-1zM640 582h1v1h-1zM641 583h1v1h-1zM642 584h1v1h-1zM643 585h1v1h-1zM644 586h3v1h-3zM647 587h1v1h-1zM648 586h3v1h-3zM651 585h1v1h-1zM652 584h1v1h-1zM653 583h1v1h-1zM654 582h1v1h-1zM655 581h1v1h-1zM656 581h1v2h-1zM657 583h1v1h-1zM658 584h1v2h-1zM659 586h1v1h-1zM660 587h1v1h-1zM661 586h3v1h-3zM664 585h3v1h-3zM667 584h6v1h-6zM673 585h2v1h-2zM675 586h1v1h-1zM676 587h1v1h-1zM677 588h1v2h-1zM678 590h1v1h-1zM679 591h1v2h-1zM680 593h4v1h-4zM684 591h1v2h-1zM685 589h1v2h-1zM686 586h1v3h-1zM687 583h1v3h-1zM688 581h1v2h-1zM689 581h1v1h-1zM690 580h1v1h-1zM691 579h3v1h-3zM694 578h3v1h-3zM697 579h1v1h-1zM698 580h1v1h-1zM699 581h1v1h-1zM700 582h1v1h-1zM701 583h1v1h-1zM702 584h2v1h-2zM704 585h2v1h-2zM706 584h2v1h-2zM708 583h1v2h-1zM709 581h1v2h-1zM710 580h1v1h-1zM711 578h1v2h-1zM712 577h1v1h-1zM713 575h1v2h-1zM714 574h1v1h-1zM715 572h1v2h-1zM716 571h3v1h-3zM719 572h2v1h-2zM721 573h1v1h-1zM722 574h1v2h-1zM723 576h1v1h-1zM724 577h2v1h-2zM726 578h3v1h-3zM729 579h2v1h-2zM731 580h1v1h-1zM732 578h1v2h-1zM733 576h1v2h-1zM734 573h1v3h-1zM735 571h1v2h-1zM736 569h1v2h-1zM737 568h1v1h-1zM738 567h1v1h-1zM739 566h2v1h-2zM741 565h5v1h-5zM746 564h7v1h-7zM753 565h1v1h-1zM754 566h1v1h-1zM755 567h1v1h-1zM756 568h1v1h-1zM757 569h1v2h-1zM758 571h1v2h-1zM759 573h1v1h-1zM760 574h1v1h-1zM761 573h2v1h-2zM763 572h3v1h-3zM766 573h2v1h-2zM768 574h1v1h-1zM769 573h1v1h-1zM770 572h1v1h-1zM771 571h1v1h-1zM772 570h1v1h-1zM773 569h1v1h-1zM774 568h2v1h-2zM776 567h2v1h-2zM778 566h3v1h-3zM781 565h1v1h-1zM782 564h2v1h-2zM784 563h1v1h-1zM785 562h2v1h-2zM787 561h1v1h-1zM788 560h2v1h-2zM790 561h2v1h-2zM792 562h3v1h-3zM795 563h3v1h-3zM798 564h2v1h-2zM800 565h3v1h-3zM803 566h4v1h-4zM807 567h2v1h-2zM809 568h1v2h-1zM810 570h1v2h-1zM811 572h1v1h-1zM812 573h1v1h-1zM813 574h2v1h-2zM815 575h3v1h-3zM818 576h3v1h-3zM821 577h3v1h-3zM824 578h2v1h-2zM826 579h1v1h-1zM827 579h1v2h-1zM828 581h1v2h-1zM829 583h1v2h-1zM830 585h1v3h-1zM831 588h1v2h-1zM832 590h1v2h-1zM833 588h1v2h-1zM834 586h1v2h-1zM835 584h1v2h-1zM836 582h1v2h-1zM837 582h1v1h-1zM838 581h7v1h-7zM845 580h2v1h-2zM847 579h2v1h-2zM849 580h1v1h-1zM850 581h1v1h-1zM851 582h1v1h-1zM852 583h3v1h-3zM855 584h3v1h-3zM858 585h2v1h-2zM860 586h3v1h-3zM863 587h3v1h-3zM866 588h2v1h-2zM868 589h1v1h-1zM869 588h1v1h-1zM870 587h1v1h-1zM871 586h1v1h-1zM872 585h3v1h-3zM875 586h2v1h-2zM877 587h2v1h-2zM879 588h1v1h-1zM880 589h8v1h-8zM888 588h1v2h-1zM889 584h1v4h-1zM890 581h1v3h-1zM891 578h1v3h-1zM892 575h1v3h-1zM893 574h1v1h-1zM894 572h1v2h-1zM895 571h1v1h-1zM896 570h1v1h-1zM897 569h1v1h-1zM898 568h2v1h-2zM900 567h1v2h-1zM901 569h1v1h-1zM902 570h1v2h-1zM903 572h1v2h-1zM904 574h1v1h-1zM905 573h3v1h-3zM908 572h3v1h-3zM911 571h3v1h-3zM914 572h2v1h-2zM916 572h1v2h-1zM917 574h1v1h-1zM918 575h1v1h-1zM919 576h1v2h-1zM920 577h1v2h-1zM921 575h1v2h-1zM922 573h1v2h-1zM923 571h1v2h-1zM924 569h1v2h-1zM925 567h1v2h-1zM926 566h1v1h-1zM927 564h1v2h-1zM928 563h1v1h-1zM929 564h1v1h-1zM930 565h1v2h-1zM931 567h1v1h-1zM932 568h3v1h-3zM935 569h2v1h-2zM937 568h1v1h-1zM938 567h1v1h-1zM939 566h1v1h-1zM940 565h1v2h-1zM941 567h1v2h-1zM942 569h1v2h-1zM943 571h1v2h-1zM944 573h2v1h-2zM946 572h3v1h-3zM949 571h2v1h-2zM951 570h2v1h-2zM953 569h1v1h-1zM954 568h1v1h-1zM955 567h1v1h-1zM956 566h3v1h-3zM959 567h2v1h-2zM961 566h2v1h-2zM963 565h2v1h-2zM965 564h2v1h-2zM967 563h2v1h-2zM969 564h3v1h-3zM972 565h1v1h-1zM973 564h1v1h-1zM974 563h2v1h-2zM976 562h1v1h-1zM977 560h1v2h-1zM978 559h1v1h-1zM979 558h1v1h-1zM980 557h1v1h-1zM981 558h2v1h-2zM983 559h2v1h-2zM985 558h2v1h-2zM987 557h2v1h-2zM989 556h1v1h-1zM990 555h2v1h-2zM992 554h1v1h-1zM993 555h2v1h-2zM995 556h1v1h-1zM996 557h2v1h-2zM998 558h1v1h-1zM999 559h1v1h-1zM1000 560h1v2h-1zM1001 562h1v2h-1zM1002 564h1v3h-1zM1003 567h1v3h-1zM1004 570h5v1h-5zM1009 571h1v2h-1zM1010 573h1v1h-1zM1011 574h1v2h-1zM1012 576h1v2h-1zM1013 578h1v2h-1zM1014 580h1v2h-1zM1015 582h1v1h-1zM1016 583h1v1h-1zM1017 584h1v1h-1zM1018 585h2v1h-2zM1020 586h4v1h-4zM1024 584h1v2h-1zM1025 582h1v2h-1zM1026 580h1v2h-1zM1027 578h1v2h-1zM1028 577h12v1h-12zM1040 578h2v1h-2zM1042 577h4v1h-4zM1046 578h2v1h-2zM1048 579h1v1h-1zM1049 580h2v1h-2zM1051 581h1v1h-1zM1052 582h6v1h-6zM1058 583h2v1h-2zM1060 584h3v1h-3zM1063 585h2v1h-2zM1065 586h1v1h-1zM1066 587h1v1h-1zM1067 588h3v1h-3zM1070 587h2v1h-2zM1072 586h1v1h-1zM1073 587h1v1h-1zM1074 588h1v1h-1zM1075 589h1v1h-1zM1076 590h4v1h-4zM1080 590h1v2h-1zM1081 592h1v2h-1zM1082 594h1v2h-1zM1083 596h1v1h-1zM1084 597h1v1h-1zM1085 598h4v1h-4zM1089 599h2v1h-2zM1091 600h2v1h-2zM1093 601h2v1h-2zM1095 602h1v1h-1zM1096 603h3v1h-3zM1099 604h3v1h-3zM1102 603h6v1h-6zM1108 601h1v2h-1zM1109 599h1v2h-1zM1110 597h1v2h-1zM1111 595h1v2h-1zM1112 593h1v2h-1zM1113 592h1v1h-1zM1114 591h1v1h-1zM1115 590h1v1h-1zM1116 589h3v1h-3zM1119 590h2v1h-2zM1121 591h1v2h-1zM1122 593h1v2h-1zM1123 595h1v1h-1zM1124 596h3v1h-3zM1127 597h2v1h-2zM1129 596h3v1h-3zM1132 595h1v1h-1zM1133 593h1v2h-1zM1134 590h1v3h-1zM1135 588h1v2h-1zM1136 586h1v2h-1zM1137 585h1v1h-1zM1138 583h1v2h-1zM1139 582h1v1h-1zM1140 581h2v1h-2zM1142 582h2v1h-2zM1144 583h2v1h-2zM1146 584h2v1h-2zM1148 585h3v1h-3zM1151 586h4v1h-4zM1155 585h3v1h-3zM1158 586h1v1h-1zM1159 587h2v1h-2zM1161 588h1v1h-1zM1162 589h1v1h-1zM1163 590h1v1h-1zM1164 591h1v1h-1zM1165 592h1v2h-1zM1166 594h1v1h-1zM1167 595h1v2h-1zM1168 597h1v1h-1zM1169 596h3v1h-3zM1172 595h6v1h-6zM1178 596h2v1h-2zM1180 597h3v1h-3zM1183 598h2v1h-2zM1185 599h1v1h-1zM1186 600h1v2h-1zM1187 602h1v1h-1zM1188 603h1v1h-1zM1189 601h1v2h-1zM1190 600h1v1h-1zM1191 598h1v2h-1zM1192 597h1v2h-1zM1193 599h1v2h-1zM1194 601h1v2h-1zM1195 603h1v2h-1zM1196 604h1v2h-1zM1197 601h1v3h-1zM1198 598h1v3h-1zM1199 595h1v3h-1zM1200 593h1v2h-1zM1201 593h3v1h-3zM1204 591h1v2h-1zM1205 588h1v3h-1zM1206 585h1v3h-1zM1207 581h1v4h-1zM1208 579h1v2h-1zM1209 579h5v1h-5zM1214 580h2v1h-2zM1216 581h1v1h-1zM1217 580h1v1h-1zM1218 579h2v1h-2zM1220 578h2v1h-2zM1222 577h3v1h-3zM1225 576h2v1h-2zM1227 575h1v1h-1zM1228 575h1v3h-1zM1229 578h1v4h-1zM1230 582h1v4h-1zM1231 586h1v4h-1zM1232 590h1v2h-1zM1233 589h1v2h-1zM1234 588h1v1h-1zM1235 587h1v1h-1zM1236 586h1v2h-1zM1237 588h1v3h-1zM1238 591h1v2h-1zM1239 593h1v3h-1zM1240 596h1v2h-1zM1241 598h1v1h-1zM1242 599h1v1h-1zM1243 600h1v1h-1zM1244 601h7v1h-7zM1251 602h2v1h-2zM1253 603h2v1h-2zM1255 604h2v1h-2zM1257 605h1v1h-1zM1258 606h1v1h-1zM1259 607h1v1h-1zM1260 608h1v1h-1zM1261 607h2v1h-2zM1263 606h6v1h-6z"/>
<path fill="#0000ff" d="M19 77h16v1h-16zM35 78h6v1h-6zM41 79h14v1h-14zM55 80h1v1h-1zM56 81h18v1h-18zM74 80h7v1h-7zM81 79h4v1h-4zM85 78h3v1h-3zM88 77h3v1h-3zM91 76h3v1h-3zM94 75h3v1h-3zM97 74h3v1h-3zM100 73h4v1h-4zM104 72h4v1h-4zM108 71h8v1h-8zM116 70h3v1h-3zM119 69h10v1h-10zM129 70h2v1h-2zM131 71h3v1h-3zM134 72h12v1h-12zM146 73h3v1h-3zM149 74h14v1h-14zM163 75h7v1h-7zM170 76h3v1h-3zM173 77h3v1h-3zM176 78h3v1h-3zM179 79h3v1h-3zM182 80h4v1h-4zM186 81h3v1h-3zM189 82h3v1h-3zM192 83h3v1h-3zM195 84h3v1h-3zM198 85h2v1h-2zM200 86h2v1h-2zM202 87h1v1h-1zM203 88h2v1h-2zM205 89h2v1h-2zM207 90h2v1h-2zM209 91h2v1h-2zM211 92h1v1h-1zM212 93h2v1h-2zM214 94h1v1h-1zM215 95h2v1h-2zM217 96h1v1h-1zM218 97h2v1h-2zM220 98h1v1h-1zM221 99h2v1h-2zM223 100h2v1h-2zM225 101h1v1h-1zM226 102h2v1h-2zM228 103h1v1h-1zM229 104h2v1h-2zM231 105h2v1h-2zM233 106h2v1h-2zM235 107h1v1h-1zM236 108h2v1h-2zM238 109h2v1h-2zM240 110h2v1h-2zM242 111h2v1h-2zM244 112h3v1h-3zM247 113h4v1h-4zM251 114h4v1h-4zM255 115h4v1h-4zM259 116h4v1h-4zM263 117h4v1h-4zM267 118h3v1h-3zM270 119h29v1h-29zM299 120h1v1h-1zM300 121h4v1h-4zM304 122h3v1h-3zM307 123h3v1h-3zM310 124h4v1h-4zM314 125h9v1h-9zM323 126h4v1h-4zM327 125h10v1h-10zM337 124h9v1h-9zM346 123h4v1h-4zM350 122h3v1h-3zM353 121h3v1h-3zM356 120h4v1h-4zM360 119h8v1h-8zM368 118h5v1h-5zM373 117h4v1h-4zM377 116h19v1h-19zM396 117h13v1h-13zM409 116h5v1h-5zM414 115h4v1h-4zM418 114h4v1h-4zM422 113h4v1h-4zM426 112h2v1h-2zM428 111h2v1h-2zM430 110h3v1h-3zM433 109h2v1h-2zM435 108h2v1h-2zM437 107h3v1h-3zM440 106h20v1h-20zM460 107h3v1h-3zM463 108h8v1h-8zM471 109h2v1h-2zM473 110h2v1h-2zM475 111h1v1h-1zM476 112h1v1h-1zM477 113h1v1h-1zM478 114h1v1h-1zM479 115h2v1h-2zM481 116h3v1h-3zM484 117h2v1h-2zM486 118h2v1h-2zM488 119h3v1h-3zM491 120h2v1h-2zM493 121h2v1h-2zM495 122h3v1h-3zM498 123h2v1h-2zM500 124h3v1h-3zM503 125h2v1h-2zM505 126h3v1h-3zM508 127h3v1h-3zM511 128h3v1h-3zM514 129h2v1h-2zM516 130h2v1h-2zM518 131h1v1h-1zM519 132h2v1h-2zM521 133h2v1h-2zM523 134h2v1h-2zM525 135h1v1h-1zM526 136h2v1h-2zM528 137h2v1h-2zM530 138h2v1h-2zM532 139h2v1h-2zM534 140h2v1h-2zM536 141h2v1h-2zM538 142h2v1h-2zM540 143h1v1h-1zM541 144h2v1h-2zM543 145h1v1h-1zM544 146h2v1h-2zM546 147h1v1h-1zM547 148h2v1h-2zM549 149h1v1h-1zM550 150h2v1h-2zM552 151h1v1h-1zM553 152h2v1h-2zM555 153h1v1h-1zM556 154h2v1h-2zM558 155h2v1h-2zM560 156h2v1h-2zM562 157h3v1h-3zM565 158h2v1h-2zM567 159h2v1h-2zM569 160h2v1h-2zM571 161h3v1h-3zM574 162h2v1h-2zM576 163h3v1h-3zM579 164h2v1h-2zM581 165h3v1h-3zM584 166h2v1h-2zM586 167h14v1h-14zM600 166h4v1h-4zM604 165h4v1h-4zM608 164h4v1h-4zM612 163h4v1h-4zM616 162h4v1h-4zM620 161h4v1h-4zM624 160h7v1h-7zM631 159h44v1h-44zM675 160h6v1h-6zM681 161h5v1h-5zM686 160h13v1h-13zM699 159h6v1h-6zM705 160h9v1h-9zM714 161h5v1h-5zM719 162h4v1h-4zM723 163h5v1h-5zM728 164h3v1h-3zM731 165h34v1h-34zM765 164h10v1h-10zM775 163h3v1h-3zM778 162h3v1h-3zM781 161h2v1h-2zM783 160h3v1h-3zM786 159h3v1h-3zM789 158h3v1h-3zM792 157h3v1h-3zM795 156h2v1h-2zM797 155h4v1h-4zM801 154h2v1h-2zM803 153h3v1h-3zM806 152h3v1h-3zM809 151h3v1h-3zM812 150h4v1h-4zM816 149h4v1h-4zM820 148h4v1h-4zM824 147h17v1h-17zM841 146h7v1h-7zM848 145h8v1h-8zM856 146h8v1h-8zM864 147h3v1h-3zM867 148h9v1h-9zM876 149h8v1h-8zM884 150h3v1h-3zM887 151h17v1h-17zM904 152h2v1h-2zM906 153h9v1h-9zM915 154h3v1h-3zM918 155h21v1h-21zM939 154h12v1h-12zM951 153h4v1h-4zM955 152h5v1h-5zM960 151h3v1h-3zM963 150h3v1h-3zM966 149h4v1h-4zM970 148h4v1h-4zM974 147h3v1h-3zM977 146h2v1h-2zM979 145h1v1h-1zM980 144h2v1h-2zM982 143h2v1h-2zM984 142h2v1h-2zM986 141h1v1h-1zM987 140h2v1h-2zM989 139h2v1h-2zM991 138h2v1h-2zM993 137h2v1h-2zM995 136h2v1h-2zM997 135h2v1h-2zM999 134h2v1h-2zM1001 133h2v1h-2zM1003 132h3v1h-3zM1006 131h5v1h-5zM1011 130h10v1h-10zM1021 129h7v1h-7zM1028 128h4v1h-4zM1032 127h5v1h-5zM1037 126h36v1h-36zM1073 127h8v1h-8zM1081 128h2v1h-2zM1083 129h2v1h-2zM1085 130h2v1h-2zM1087 131h2v1h-2zM1089 132h2v1h-2zM1091 133h1v1h-1zM1092 134h2v1h-2zM1094 135h2v1h-2zM1096 136h2v1h-2zM1098 137h1v1h-1zM1099 138h2v1h-2zM1101 139h3v1h-3zM1104 140h1v1h-1zM1105 141h2v1h-2zM1107 142h1v1h-1zM1108 143h2v1h-2zM1110 144h2v1h-2zM1112 145h1v1h-1zM1113 146h2v1h-2zM1115 147h2v1h-2zM1117 148h1v1h-1zM1118 149h2v1h-2zM1120 150h1v1h-1zM1121 151h2v1h-2zM1123 152h1v1h-1zM1124 153h1v1h-1zM1125 154h2v1h-2zM1127 155h1v1h-1zM1128 156h2v1h-2zM1130 157h2v1h-2zM1132 158h2v1h-2zM1134 159h2v1h-2zM1136 160h4v1h-4zM1140 161h6v1h-6zM1146 162h2v1h-2zM1148 163h3v1h-3zM1151 164h2v1h-2zM1153 165h2v1h-2zM1155 166h2v1h-2zM1157 167h2v1h-2zM1159 168h1v1h-1zM1160 169h2v1h-2zM1162 170h2v1h-2zM1164 171h1v1h-1zM1165 172h2v1h-2zM1167 173h2v1h-2zM1169 174h1v1h-1zM1170 175h2v1h-2zM1172 176h2v1h-2zM1174 177h1v1h-1zM1175 178h2v1h-2zM1177 179h2v1h-2zM1179 180h1v1h-1zM1180 181h2v1h-2zM1182 182h2v1h-2zM1184 183h1v1h-1zM1185 184h2v1h-2zM1187 185h2v1h-2zM1189 186h1v1h-1zM1190 187h2v1h-2zM1192 188h1v1h-1zM1193 189h2v1h-2zM1195 190h1v1h-1zM1196 191h1v1h-1zM1197 192h2v1h-2zM1199 193h1v1h-1zM1200 194h2v1h-2zM1202 195h2v1h-2zM1204 196h3v1h-3zM1207 197h3v1h-3zM1210 198h4v1h-4zM1214 199h4v1h-4zM1218 200h7v1h-7zM1225 201h6v1h-6zM1231 202h3v1h-3zM1234 203h2v1h-2zM1236 204h1v1h-1zM1237 205h1v2h-1zM1238 207h1v1h-1zM1239 208h1v1h-1zM1240 209h1v1h-1zM1241 210h1v1h-1zM1242 211h1v2h-1zM1243 213h1v1h-1zM1244 214h1v1h-1zM1245 215h1v1h-1zM1246 216h1v1h-1zM1247 217h1v2h-1zM1248 219h1v1h-1zM1249 220h1v1h-1zM1250 221h1v1h-1zM1251 222h1v1h-1zM1252 223h1v1h-1zM1253 224h1v2h-1zM1254 226h1v2h-1zM1255 228h1v2h-1zM1256 230h1v2h-1zM1257 232h1v2h-1zM1258 234h1v2h-1zM1259 236h1v2h-1zM1260 238h1v2h-1zM1261 240h1v3h-1zM1262 243h1v2h-1zM1263 245h1v2h-1zM1264 247h1v3h-1zM1265 250h1v2h-1zM1266 252h1v2h-1zM1267 254h1v2h-1zM1268 255h1v1h-1z"/>
<path fill="#ff0000" d="M4 85h11v1h-11zM15 84h3v1h-3zM18 83h4v1h-4zM22 82h3v1h-3zM25 81h4v1h-4zM29 80h3v1h-3zM32 79h6v1h-6zM38 78h13v1h-13zM51 77h18v1h-18zM69 76h9v1h-9zM78 75h6v1h-6zM84 74h4v1h-4zM88 73h3v1h-3zM91 72h2v1h-2zM93 71h2v1h-2zM95 70h3v1h-3zM98 69h2v1h-2zM100 68h3v1h-3zM103 67h2v1h-2zM105 66h3v1h-3zM108 65h4v1h-4zM112 64h5v1h-5zM117 63h14v1h-14zM131 64h2v1h-2zM133 65h2v1h-2zM135 66h2v1h-2zM137 67h2v1h-2zM139 68h3v1h-3zM142 69h2v1h-2zM144 70h1v1h-1zM145 71h1v1h-1zM146 72h1v1h-1zM147 73h2v1h-2zM149 74h1v1h-1zM150 75h1v1h-1zM151 76h2v1h-2zM153 77h1v1h-1zM154 78h2v1h-2zM156 79h1v1h-1zM157 80h2v1h-2zM159 81h1v1h-1zM160 82h1v1h-1zM161 83h2v1h-2zM163 84h1v1h-1zM164 85h1v1h-1zM165 86h2v1h-2zM167 87h1v1h-1zM168 88h1v1h-1zM169 89h2v1h-2zM171 90h1v1h-1zM172 91h1v1h-1zM173 92h2v1h-2zM175 93h1v1h-1zM176 94h1v1h-1zM177 95h2v1h-2zM179 96h1v1h-1zM180 97h2v1h-2zM182 98h1v1h-1zM183 99h4v1h-4zM187 100h6v1h-6zM193 101h3v1h-3zM196 102h2v1h-2zM198 103h3v1h-3zM201 104h2v1h-2zM203 105h1v1h-1zM204 106h2v1h-2zM206 107h1v1h-1zM207 108h1v1h-1zM208 109h2v1h-2zM210 110h1v1h-1zM211 111h1v1h-1zM212 112h2v1h-2zM214 113h2v1h-2zM216 114h2v1h-2zM218 115h2v1h-2zM220 116h1v1h-1zM221 117h2v1h-2zM223 118h1v1h-1zM224 119h2v1h-2zM226 120h1v1h-1zM227 121h2v1h-2zM229 122h1v1h-1zM230 123h2v1h-2zM232 124h2v1h-2zM234 125h6v1h-6zM240 126h3v1h-3zM243 127h4v1h-4zM247 128h3v1h-3zM250 129h7v1h-7zM257 130h5v1h-5zM262 129h4v1h-4zM266 128h2v1h-2zM268 127h2v1h-2zM270 126h3v1h-3zM273 125h3v1h-3zM276 124h3v1h-3zM279 123h1v1h-1zM280 122h2v1h-2zM282 121h1v1h-1zM283 120h2v1h-2zM285 119h2v1h-2zM287 118h2v1h-2zM289 117h4v1h-4zM293 116h15v1h-15zM308 117h5v1h-5zM313 118h3v1h-3zM316 119h3v1h-3zM319 120h2v1h-2zM321 121h3v1h-3zM324 122h2v1h-2zM326 123h3v1h-3zM329 124h2v1h-2zM331 125h3v1h-3zM334 126h4v1h-4zM338 127h12v1h-12zM350 126h3v1h-3zM353 125h3v1h-3zM356 124h2v1h-2zM358 123h2v1h-2zM360 122h2v1h-2zM362 121h2v1h-2zM364 120h1v1h-1zM365 119h2v1h-2zM367 118h1v1h-1zM368 117h2v1h-2zM370 116h1v1h-1zM371 115h1v1h-1zM372 114h1v1h-1zM373 113h2v1h-2zM375 112h1v1h-1zM376 111h2v1h-2zM378 110h2v1h-2zM380 109h4v1h-4zM384 108h20v1h-20zM404 107h5v1h-5zM409 106h4v1h-4zM413 105h10v1h-10zM423 104h4v1h-4zM427 103h6v1h-6zM433 102h7v1h-7zM440 101h11v1h-11zM451 102h4v1h-4zM455 103h3v1h-3zM458 104h2v1h-2zM460 105h2v1h-2zM462 106h1v1h-1zM463 107h2v1h-2zM465 108h1v1h-1zM466 109h1v1h-1zM467 110h2v1h-2zM469 111h1v1h-1zM470 112h1v1h-1zM471 113h1v1h-1zM472 114h1v1h-1zM473 115h1v1h-1zM474 116h1v1h-1zM475 117h1v1h-1zM476 118h1v2h-1zM477 120h1v1h-1zM478 121h1v2h-1zM479 123h1v1h-1zM480 124h1v1h-1zM481 125h1v2h-1zM482 127h1v1h-1zM483 128h1v1h-1zM484 129h1v2h-1zM485 131h1v1h-1zM486 132h1v1h-1zM487 133h1v2h-1zM488 135h1v1h-1zM489 136h1v1h-1zM490 137h1v2h-1zM491 139h1v1h-1zM492 140h1v1h-1zM493 141h1v1h-1zM494 142h2v1h-2zM496 143h1v1h-1zM497 144h1v1h-1zM498 145h1v1h-1zM499 146h1v1h-1zM500 147h1v1h-1zM501 148h1v1h-1zM502 149h1v1h-1zM503 150h1v1h-1zM504 151h1v1h-1zM505 152h2v1h-2zM507 153h1v1h-1zM508 154h4v1h-4zM512 154h1v2h-1zM513 156h1v1h-1zM514 157h2v1h-2zM516 158h1v1h-1zM517 159h2v1h-2zM519 160h1v1h-1zM520 161h2v1h-2zM522 162h2v1h-2zM524 163h7v1h-7zM531 164h6v1h-6zM537 165h8v1h-8zM545 166h9v1h-9zM554 167h9v1h-9zM563 168h7v1h-7zM570 169h4v1h-4zM574 170h6v1h-6zM580 171h11v1h-11zM591 170h2v1h-2zM593 169h3v1h-3zM596 168h4v1h-4zM600 167h1v1h-1zM601 166h2v1h-2zM603 165h2v1h-2zM605 164h2v1h-2zM607 163h2v1h-2zM609 162h2v1h-2zM611 161h2v1h-2zM613 160h2v1h-2zM615 159h2v1h-2zM617 158h1v1h-1zM618 157h2v1h-2zM620 156h1v1h-1zM621 155h1v1h-1zM622 154h2v1h-2zM624 153h1v1h-1zM625 152h2v1h-2zM627 151h1v1h-1zM628 150h2v1h-2zM630 149h1v1h-1zM631 148h2v1h-2zM633 147h2v1h-2zM635 146h2v1h-2zM637 145h10v1h-10zM647 146h2v1h-2zM649 147h3v1h-3zM652 148h3v1h-3zM655 149h2v1h-2zM657 150h2v1h-2zM659 151h2v1h-2zM661 152h2v1h-2zM663 153h2v1h-2zM665 154h2v1h-2zM667 155h2v1h-2zM669 156h2v1h-2zM671 157h2v1h-2zM673 158h1v1h-1zM674 159h1v1h-1zM675 160h1v1h-1zM676 161h1v1h-1zM677 162h1v1h-1zM678 163h1v1h-1zM679 164h1v1h-1zM680 165h1v1h-1zM681 166h2v1h-2zM683 167h1v1h-1zM684 168h2v1h-2zM686 169h3v1h-3zM689 170h3v1h-3zM692 171h3v1h-3zM695 172h5v1h-5zM700 173h7v1h-7zM707 174h8v1h-8zM715 173h5v1h-5zM720 172h12v1h-12zM732 171h3v1h-3zM735 170h1v1h-1zM736 169h2v1h-2zM738 168h2v1h-2zM740 167h1v1h-1zM741 166h2v1h-2zM743 165h1v1h-1zM744 164h2v1h-2zM746 163h2v1h-2zM748 162h2v1h-2zM750 161h2v1h-2zM752 160h2v1h-2zM754 159h2v1h-2zM756 158h2v1h-2zM758 157h2v1h-2zM760 156h2v1h-2zM762 155h2v1h-2zM764 154h10v1h-10zM774 153h1v1h-1zM775 152h2v1h-2zM777 151h1v1h-1zM778 150h2v1h-2zM780 149h2v1h-2zM782 148h2v1h-2zM784 147h2v1h-2zM786 146h1v1h-1zM787 145h2v1h-2zM789 144h2v1h-2zM791 143h2v1h-2zM793 142h3v1h-3zM796 141h8v1h-8zM804 140h8v1h-8zM812 139h6v1h-6zM818 138h13v1h-13zM831 139h2v1h-2zM833 140h2v1h-2zM835 141h3v1h-3zM838 142h2v1h-2zM840 143h2v1h-2zM842 144h2v1h-2zM844 145h3v1h-3zM847 146h3v1h-3zM850 147h2v1h-2zM852 148h1v1h-1zM853 149h2v1h-2zM855 150h2v1h-2zM857 151h2v1h-2zM859 152h2v1h-2zM861 153h2v1h-2zM863 154h3v1h-3zM866 155h2v1h-2zM868 156h2v1h-2zM870 157h3v1h-3zM873 158h4v1h-4zM877 159h2v1h-2zM879 160h2v1h-2zM881 161h2v1h-2zM883 162h14v1h-14zM897 161h8v1h-8zM905 160h4v1h-4zM909 159h3v1h-3zM912 158h5v1h-5zM917 157h5v1h-5zM922 156h3v1h-3zM925 155h2v1h-2zM927 154h1v1h-1zM928 153h2v1h-2zM930 152h2v1h-2zM932 151h2v1h-2zM934 150h3v1h-3zM937 149h2v1h-2zM939 148h2v1h-2zM941 147h2v1h-2zM943 146h3v1h-3zM946 145h4v1h-4zM950 144h3v1h-3zM953 143h3v1h-3zM956 142h4v1h-4zM960 141h2v1h-2zM962 140h2v1h-2zM964 139h2v1h-2zM966 138h2v1h-2zM968 137h2v1h-2zM970 136h2v1h-2zM972 135h2v1h-2zM974 134h2v1h-2zM976 133h1v1h-1zM977 132h2v1h-2zM979 131h2v1h-2zM981 130h1v1h-1zM982 129h2v1h-2zM984 128h2v1h-2zM986 127h1v1h-1zM987 126h2v1h-2zM989 125h1v1h-1zM990 124h1v1h-1zM991 123h2v1h-2zM993 122h1v1h-1zM994 121h2v1h-2zM996 120h1v1h-1zM997 119h2v1h-2zM999 118h2v1h-2zM1001 117h2v1h-2zM1003 116h4v1h-4zM1007 115h11v1h-11zM1018 116h2v1h-2zM1020 117h2v1h-2zM1022 118h9v1h-9zM1031 119h3v1h-3zM1034 120h2v1h-2zM1036 121h3v1h-3zM1039 122h3v1h-3zM1042 123h2v1h-2zM1044 124h3v1h-3zM1047 125h2v1h-2zM1049 126h1v1h-1zM1050 127h1v1h-1zM1051 128h1v1h-1zM1052 129h1v1h-1zM1053 130h1v1h-1zM1054 131h3v1h-3zM1057 132h3v1h-3zM1060 133h2v1h-2zM1062 134h2v1h-2zM1064 135h2v1h-2zM1066 136h3v1h-3zM1069 137h4v1h-4zM1073 138h7v1h-7zM1080 139h1v1h-1zM1081 140h1v1h-1zM1082 141h2v1h-2zM1084 142h1v1h-1zM1085 143h1v1h-1zM1086 144h2v1h-2zM1088 145h1v1h-1zM1089 146h1v1h-1zM1090 147h1v1h-1zM1091 148h2v1h-2zM1093 149h1v1h-1zM1094 150h1v1h-1zM1095 151h1v1h-1zM1096 152h1v1h-1zM1097 153h1v1h-1zM1098 154h1v1h-1zM1099 155h1v1h-1zM1100 156h1v1h-1zM1101 157h1v1h-1zM1102 158h1v1h-1zM1103 159h1v1h-1zM1104 160h1v1h-1zM1105 161h1v1h-1zM1106 162h1v1h-1zM1107 163h1v1h-1zM1108 164h2v1h-2zM1110 165h2v1h-2zM1112 166h2v1h-2zM1114 167h2v1h-2zM1116 168h1v1h-1zM1117 169h2v1h-2zM1119 170h1v1h-1zM1120 171h2v1h-2zM1122 172h1v1h-1zM1123 173h1v1h-1zM1124 174h1v1h-1zM1125 175h1v1h-1zM1126 176h2v1h-2zM1128 177h1v1h-1zM1129 178h1v1h-1zM1130 179h2v1h-2zM1132 180h2v1h-2zM1134 181h2v1h-2zM1136 182h3v1h-3zM1139 183h15v1h-15zM1154 182h2v1h-2zM1156 183h6v1h-6zM1162 184h4v1h-4zM1166 185h2v1h-2zM1168 186h2v1h-2zM1170 187h3v1h-3zM1173 188h2v1h-2zM1175 189h2v1h-2zM1177 190h3v1h-3zM1180 191h2v1h-2zM1182 192h3v1h-3zM1185 193h1v1h-1zM1186 194h2v1h-2zM1188 195h1v1h-1zM1189 196h2v1h-2zM1191 197h1v2h-1zM1192 199h1v1h-1zM1193 200h1v1h-1zM1194 201h1v2h-1zM1195 203h1v1h-1zM1196 204h1v1h-1zM1197 205h1v1h-1zM1198 206h1v1h-1zM1199 207h1v1h-1zM1200 208h1v1h-1zM1201 209h1v1h-1zM1202 210h1v1h-1zM1203 211h2v1h-2zM1205 212h1v1h-1zM1206 213h2v1h-2zM1208 214h3v1h-3zM1211 215h2v1h-2zM1213 216h2v1h-2zM1215 217h3v1h-3zM1218 218h9v1h-9zM1227 217h3v1h-3zM1230 218h1v1h-1zM1231 219h1v1h-1zM1232 220h1v1h-1zM1233 221h2v1h-2zM1235 222h2v1h-2zM1237 223h1v2h-1zM1238 225h1v1h-1zM1239 226h1v2h-1zM1240 228h1v2h-1zM1241 230h1v2h-1zM1242 232h1v2h-1zM1243 234h1v2h-1zM1244 236h1v2h-1zM1245 238h1v2h-1zM1246 240h1v2h-1zM1247 242h1v2h-1zM1248 244h1v2h-1zM1249 246h1v2h-1zM1250 248h1v3h-1zM1251 251h1v2h-1zM1252 253h1v2h-1zM1253 255h1v2h-1zM1254 257h1v2h-1zM1255 259h1v2h-1zM1256 261h1v2h-1zM1257 263h1v3h-1zM1258 266h1v3h-1zM1259 269h1v4h-1zM1260 273h1v4h-1zM1261 277h1v3h-1zM1262 280h1v4h-1zM1263 284h1v4h-1zM1264 288h1v4h-1zM1265 292h1v5h-1zM1266 297h1v4h-1zM1267 301h1v4h-1zM1268 305h1v2h-1zM1269 306h1v1h-1z"/>
<path fill="#ffa500" d="M4 80h2v1h-2zM6 79h3v1h-3zM9 78h2v1h-2zM11 77h11v1h-11zM22 76h5v1h-5zM27 75h5v1h-5zM32 74h1v1h-1zM33 75h3v1h-3zM36 76h4v1h-4zM40 77h4v1h-4zM44 78h8v1h-8zM52 79h5v1h-5zM57 78h2v1h-2zM59 77h3v1h-3zM62 76h6v1h-6zM68 75h6v1h-6zM74 74h4v1h-4zM78 73h3v1h-3zM81 72h2v1h-2zM83 71h2v1h-2zM85 70h2v1h-2zM87 69h1v1h-1zM88 68h2v1h-2zM90 67h1v1h-1zM91 66h1v1h-1zM92 65h1v1h-1zM93 64h1v1h-1zM94 63h1v1h-1zM95 62h2v1h-2zM97 61h1v1h-1zM98 60h2v1h-2zM100 59h2v1h-2zM102 58h2v1h-2zM104 57h2v1h-2zM106 56h4v1h-4zM110 57h3v1h-3zM113 58h2v1h-2zM115 59h3v1h-3zM118 60h2v1h-2zM120 61h2v1h-2zM122 62h2v1h-2zM124 63h1v1h-1zM125 64h1v1h-1zM126 65h1v1h-1zM127 66h1v1h-1zM128 67h1v1h-1zM129 68h1v2h-1zM130 70h1v1h-1zM131 71h1v2h-1zM132 73h1v2h-1zM133 75h1v2h-1zM134 77h1v2h-1zM135 79h1v2h-1zM136 81h1v1h-1zM137 82h1v2h-1zM138 84h1v2h-1zM139 86h1v1h-1zM140 87h1v2h-1zM141 89h1v1h-1zM142 90h1v1h-1zM143 91h1v1h-1zM144 92h2v1h-2zM146 93h2v1h-2zM148 94h5v1h-5zM153 93h3v1h-3zM156 92h2v1h-2zM158 93h1v1h-1zM159 94h2v1h-2zM161 95h2v1h-2zM163 96h3v1h-3zM166 97h2v1h-2zM168 98h2v1h-2zM170 99h3v1h-3zM173 100h2v1h-2zM175 101h3v1h-3zM178 102h3v1h-3zM181 103h3v1h-3zM184 104h5v1h-5zM189 105h4v1h-4zM193 106h1v1h-1zM194 107h2v1h-2zM196 108h1v1h-1zM197 109h1v1h-1zM198 110h2v1h-2zM200 111h1v1h-1zM201 112h2v1h-2zM203 113h1v1h-1zM204 114h1v1h-1zM205 115h1v1h-1zM206 116h1v1h-1zM207 117h1v1h-1zM208 118h1v2h-1zM209 120h1v2h-1zM210 122h1v2h-1zM211 124h1v1h-1zM212 125h1v1h-1zM213 126h1v1h-1zM214 127h1v1h-1zM215 128h1v1h-1zM216 129h1v1h-1zM217 130h1v1h-1zM218 131h1v1h-1zM219 132h2v1h-2zM221 133h1v1h-1zM222 134h2v1h-2zM224 135h2v1h-2zM226 136h5v1h-5zM231 135h3v1h-3zM234 134h2v1h-2zM236 133h2v1h-2zM238 132h2v1h-2zM240 131h2v1h-2zM242 130h2v1h-2zM244 129h2v1h-2zM246 128h1v1h-1zM247 127h2v1h-2zM249 126h10v1h-10zM259 125h6v1h-6zM265 124h3v1h-3zM268 123h1v1h-1zM269 122h1v1h-1zM270 120h1v2h-1zM271 119h1v1h-1zM272 118h1v1h-1zM273 117h2v1h-2zM275 116h1v1h-1zM276 115h2v1h-2zM278 114h2v1h-2zM280 113h1v1h-1zM281 112h1v1h-1zM282 111h1v1h-1zM283 110h1v1h-1zM284 109h1v1h-1zM285 108h2v1h-2zM287 107h6v1h-6zM293 108h3v1h-3zM296 109h2v1h-2zM298 110h2v1h-2zM300 111h1v1h-1zM301 112h1v1h-1zM302 113h1v1h-1zM303 114h1v2h-1zM304 116h1v2h-1zM305 118h1v2h-1zM306 120h1v2h-1zM307 122h1v1h-1zM308 123h1v2h-1zM309 125h1v1h-1zM310 126h1v2h-1zM311 128h1v1h-1zM312 129h1v1h-1zM313 130h1v2h-1zM314 132h1v1h-1zM315 133h1v1h-1zM316 134h1v1h-1zM317 135h1v1h-1zM318 136h1v1h-1zM319 137h1v1h-1zM320 138h1v1h-1zM321 139h1v1h-1zM322 140h2v1h-2zM324 141h1v1h-1zM325 140h1v1h-1zM326 139h1v1h-1zM327 138h2v1h-2zM329 137h1v1h-1zM330 136h1v1h-1zM331 135h1v1h-1zM332 134h1v1h-1zM333 133h1v1h-1zM334 132h2v1h-2zM336 131h1v1h-1zM337 130h1v1h-1zM338 128h1v2h-1zM339 127h1v1h-1zM340 126h1v1h-1zM341 125h1v1h-1zM342 123h1v2h-1zM343 122h1v1h-1zM344 121h1v1h-1zM345 120h1v1h-1zM346 119h1v1h-1zM347 117h1v2h-1zM348 116h1v1h-1zM349 115h1v1h-1zM350 114h1v1h-1zM351 113h1v1h-1zM352 112h1v1h-1zM353 111h1v1h-1zM354 110h1v1h-1zM355 109h1v1h-1zM356 108h1v1h-1zM357 107h1v1h-1zM358 106h1v1h-1zM359 105h1v1h-1zM360 104h24v1h-24zM384 105h4v1h-4zM388 106h1v1h-1zM389 107h1v2h-1zM390 109h1v1h-1zM391 110h1v1h-1zM392 111h1v1h-1zM393 112h1v1h-1zM394 113h2v1h-2zM396 114h3v1h-3zM399 113h3v1h-3zM402 112h2v1h-2zM404 111h1v1h-1zM405 110h1v1h-1zM406 109h2v1h-2zM408 108h1v1h-1zM409 106h1v2h-1zM410 105h1v1h-1zM411 104h1v1h-1zM412 103h1v1h-1zM413 102h1v1h-1zM414 101h2v1h-2zM416 100h1v1h-1zM417 99h1v1h-1zM418 98h2v1h-2zM420 97h2v1h-2zM422 96h3v1h-3zM425 95h8v1h-8zM433 94h2v1h-2zM435 93h3v1h-3zM438 94h1v1h-1zM439 95h2v1h-2zM441 96h2v1h-2zM443 97h1v1h-1zM444 98h1v2h-1zM445 100h1v1h-1zM446 101h1v1h-1zM447 102h1v2h-1zM448 104h1v2h-1zM449 106h1v1h-1zM450 107h1v2h-1zM451 109h1v2h-1zM452 111h1v2h-1zM453 113h1v1h-1zM454 114h1v2h-1zM455 116h1v1h-1zM456 117h1v1h-1zM457 118h1v2h-1zM458 120h1v1h-1zM459 121h1v2h-1zM460 123h1v1h-1zM461 124h1v2h-1zM462 126h1v1h-1zM463 127h1v2h-1zM464 129h1v1h-1zM465 130h2v1h-2zM467 131h1v1h-1zM468 132h2v1h-2zM470 133h1v1h-1zM471 134h2v1h-2zM473 135h1v2h-1zM474 137h1v1h-1zM475 138h1v2h-1zM476 140h1v2h-1zM477 142h1v2h-1zM478 144h1v2h-1zM479 146h1v1h-1zM480 147h1v1h-1zM481 148h1v1h-1zM482 149h1v1h-1zM483 150h1v1h-1zM484 151h1v2h-1zM485 153h1v2h-1zM486 155h1v2h-1zM487 157h1v2h-1zM488 159h1v1h-1zM489 160h1v2h-1zM490 162h1v1h-1zM491 163h2v1h-2zM493 164h17v1h-17zM510 163h1v1h-1zM511 162h3v1h-3zM514 163h3v1h-3zM517 164h3v1h-3zM520 165h3v1h-3zM523 166h4v1h-4zM527 165h6v1h-6zM533 164h10v1h-10zM543 165h2v1h-2zM545 166h3v1h-3zM548 167h3v1h-3zM551 168h9v1h-9zM560 169h3v1h-3zM563 170h2v1h-2zM565 171h3v1h-3zM568 172h2v1h-2zM570 173h2v1h-2zM572 174h1v1h-1zM573 175h2v1h-2zM575 176h3v1h-3zM578 177h8v1h-8zM586 176h1v1h-1zM587 175h1v1h-1zM588 174h1v1h-1zM589 172h1v2h-1zM590 170h1v2h-1zM591 169h1v1h-1zM592 167h1v2h-1zM593 165h1v2h-1zM594 163h1v2h-1zM595 162h1v1h-1zM596 160h1v2h-1zM597 159h1v1h-1zM598 157h1v2h-1zM599 155h1v2h-1zM600 154h1v1h-1zM601 152h1v2h-1zM602 151h1v1h-1zM603 149h1v2h-1zM604 148h1v1h-1zM605 147h1v1h-1zM606 146h1v1h-1zM607 145h1v1h-1zM608 144h1v1h-1zM609 143h4v1h-4zM613 142h4v1h-4zM617 141h2v1h-2zM619 140h2v1h-2zM621 139h10v1h-10zM631 138h1v1h-1zM632 139h2v1h-2zM634 140h2v1h-2zM636 140h1v2h-1zM637 142h1v1h-1zM638 143h1v2h-1zM639 145h1v1h-1zM640 146h1v2h-1zM641 148h1v2h-1zM642 150h1v2h-1zM643 152h1v1h-1zM644 153h1v1h-1zM645 154h1v1h-1zM646 155h1v2h-1zM647 157h1v1h-1zM648 158h1v1h-1zM649 159h1v1h-1zM650 160h1v1h-1zM651 161h2v1h-2zM653 162h1v1h-1zM654 163h1v1h-1zM655 164h1v1h-1zM656 165h1v1h-1zM657 166h1v1h-1zM658 167h1v1h-1zM659 168h4v1h-4zM663 169h11v1h-11zM674 170h2v1h-2zM676 171h2v1h-2zM678 172h1v1h-1zM679 173h1v1h-1zM680 174h1v1h-1zM681 175h1v1h-1zM682 176h2v1h-2zM684 177h4v1h-4zM688 178h5v1h-5zM693 177h4v1h-4zM697 176h1v1h-1zM698 175h2v1h-2zM700 174h1v1h-1zM701 173h5v1h-5zM706 174h5v1h-5zM711 173h4v1h-4zM715 172h1v1h-1zM716 171h2v1h-2zM718 170h2v1h-2zM720 169h1v1h-1zM721 168h2v1h-2zM723 167h2v1h-2zM725 166h3v1h-3zM728 165h4v1h-4zM732 164h4v1h-4zM736 163h1v1h-1zM737 162h2v1h-2zM739 161h2v1h-2zM741 159h1v2h-1zM742 158h1v1h-1zM743 156h1v2h-1zM744 155h1v1h-1zM745 153h1v2h-1zM746 152h1v1h-1zM747 150h1v2h-1zM748 149h1v1h-1zM749 148h1v1h-1zM750 147h1v1h-1zM751 146h1v1h-1zM752 145h1v1h-1zM753 144h6v1h-6zM759 145h2v1h-2zM761 146h3v1h-3zM764 147h3v1h-3zM767 148h3v1h-3zM770 149h3v1h-3zM773 150h2v1h-2zM775 149h2v1h-2zM777 148h3v1h-3zM780 147h1v1h-1zM781 146h1v1h-1zM782 145h2v1h-2zM784 144h1v1h-1zM785 142h1v2h-1zM786 141h1v1h-1zM787 140h1v1h-1zM788 139h1v1h-1zM789 138h1v1h-1zM790 137h1v1h-1zM791 136h1v1h-1zM792 135h1v1h-1zM793 134h2v1h-2zM795 133h2v1h-2zM797 132h1v1h-1zM798 131h1v1h-1zM799 130h3v1h-3zM802 131h3v1h-3zM805 132h2v1h-2zM807 133h3v1h-3zM810 134h2v1h-2zM812 135h1v1h-1zM813 136h2v1h-2zM815 137h1v1h-1zM816 138h1v1h-1zM817 139h2v1h-2zM819 140h1v1h-1zM820 141h2v1h-2zM822 142h1v1h-1zM823 143h1v1h-1zM824 144h2v1h-2zM826 145h1v1h-1zM827 146h1v1h-1zM828 147h1v1h-1zM829 148h1v1h-1zM830 149h1v1h-1zM831 150h1v1h-1zM832 151h1v1h-1zM833 152h2v1h-2zM835 153h2v1h-2zM837 154h2v1h-2zM839 155h4v1h-4zM843 154h1v1h-1zM844 155h2v1h-2zM846 156h1v1h-1zM847 157h2v1h-2zM849 156h2v1h-2zM851 155h5v1h-5zM856 156h2v1h-2zM858 157h1v1h-1zM859 158h2v1h-2zM861 159h1v1h-1zM862 160h2v1h-2zM864 161h2v1h-2zM866 162h2v1h-2zM868 163h3v1h-3zM871 164h8v1h-8zM879 165h2v1h-2zM881 166h10v1h-10zM891 165h2v1h-2zM893 164h2v1h-2zM895 163h1v1h-1zM896 162h1v1h-1zM897 161h1v1h-1zM898 160h1v1h-1zM899 159h1v1h-1zM900 158h1v1h-1zM901 157h1v1h-1zM902 156h1v1h-1zM903 155h1v1h-1zM904 154h1v1h-1zM905 153h1v1h-1zM906 152h1v1h-1zM907 151h2v1h-2zM909 150h1v1h-1zM910 149h5v1h-5zM915 150h2v1h-2zM917 151h2v1h-2zM919 152h3v1h-3zM922 151h3v1h-3zM925 150h1v1h-1zM926 149h2v1h-2zM928 148h1v1h-1zM929 147h1v1h-1zM930 146h1v1h-1zM931 145h1v1h-1zM932 144h1v1h-1zM933 143h2v1h-2zM935 142h1v1h-1zM936 141h1v1h-1zM937 140h1v1h-1zM938 139h1v1h-1zM939 138h3v1h-3zM942 137h3v1h-3zM945 138h1v1h-1zM946 139h2v1h-2zM948 140h2v1h-2zM950 139h2v1h-2zM952 138h3v1h-3zM955 137h5v1h-5zM960 136h1v1h-1zM961 135h2v1h-2zM963 134h1v1h-1zM964 133h2v1h-2zM966 132h1v1h-1zM967 131h1v1h-1zM968 130h1v1h-1zM969 129h1v1h-1zM970 128h2v1h-2zM972 127h3v1h-3zM975 126h1v1h-1zM976 125h1v1h-1zM977 124h1v1h-1zM978 123h1v1h-1zM979 122h1v1h-1zM980 121h1v1h-1zM981 120h1v1h-1zM982 119h2v1h-2zM984 118h1v1h-1zM985 117h1v1h-1zM986 115h1v2h-1zM987 114h1v1h-1zM988 113h1v1h-1zM989 112h1v1h-1zM990 110h1v2h-1zM991 109h1v1h-1zM992 108h1v1h-1zM993 107h1v1h-1zM994 106h1v1h-1zM995 105h2v1h-2zM997 104h8v1h-8zM1005 105h2v1h-2zM1007 106h1v1h-1zM1008 107h2v1h-2zM1010 108h1v2h-1zM1011 110h1v1h-1zM1012 111h1v2h-1zM1013 113h1v2h-1zM1014 115h1v2h-1zM1015 117h1v2h-1zM1016 119h1v2h-1zM1017 121h1v2h-1zM1018 123h1v3h-1zM1019 126h1v2h-1zM1020 128h1v1h-1zM1021 129h1v2h-1zM1022 131h1v1h-1zM1023 132h1v1h-1zM1024 133h1v1h-1zM1025 134h2v1h-2zM1027 135h1v1h-1zM1028 136h2v1h-2zM1030 137h1v1h-1zM1031 138h2v1h-2zM1033 137h2v1h-2zM1035 136h2v1h-2zM1037 135h1v1h-1zM1038 134h2v1h-2zM1040 133h1v1h-1zM1041 132h1v1h-1zM1042 131h11v1h-11zM1053 132h2v1h-2zM1055 133h1v1h-1zM1056 134h2v1h-2zM1058 135h2v1h-2zM1060 136h2v1h-2zM1062 137h1v1h-1zM1063 138h2v1h-2zM1065 139h2v1h-2zM1067 140h2v1h-2zM1069 141h1v1h-1zM1070 142h2v1h-2zM1072 143h2v1h-2zM1074 144h2v1h-2zM1076 145h1v1h-1zM1077 146h2v1h-2zM1079 147h1v1h-1zM1080 148h1v1h-1zM1081 149h1v2h-1zM1082 151h1v1h-1zM1083 152h1v1h-1zM1084 153h1v2h-1zM1085 155h1v1h-1zM1086 156h1v2h-1zM1087 158h1v1h-1zM1088 159h1v2h-1zM1089 161h1v1h-1zM1090 162h1v1h-1zM1091 163h1v2h-1zM1092 165h1v1h-1zM1093 166h1v2h-1zM1094 168h1v1h-1zM1095 169h1v2h-1zM1096 171h1v2h-1zM1097 173h1v1h-1zM1098 174h1v2h-1zM1099 176h1v2h-1zM1100 178h1v1h-1zM1101 179h1v1h-1zM1102 180h1v1h-1zM1103 181h1v1h-1zM1104 182h1v1h-1zM1105 183h2v1h-2zM1107 184h1v1h-1zM1108 185h6v1h-6zM1114 184h1v1h-1zM1115 183h2v1h-2zM1117 182h2v1h-2zM1119 181h7v1h-7zM1126 182h2v1h-2zM1128 183h3v1h-3zM1131 184h2v1h-2zM1133 185h2v1h-2zM1135 186h3v1h-3zM1138 185h4v1h-4zM1142 184h2v1h-2zM1144 183h3v1h-3zM1147 182h2v1h-2zM1149 181h2v1h-2zM1151 180h7v1h-7zM1158 181h1v1h-1zM1159 182h1v1h-1zM1160 183h2v1h-2zM1162 184h1v1h-1zM1163 185h1v1h-1zM1164 186h1v1h-1zM1165 187h1v2h-1zM1166 189h1v1h-1zM1167 190h1v1h-1zM1168 191h1v1h-1zM1169 192h1v1h-1zM1170 193h1v1h-1zM1171 194h1v2h-1zM1172 196h1v1h-1zM1173 197h1v1h-1zM1174 198h1v1h-1zM1175 199h1v2h-1zM1176 201h1v1h-1zM1177 202h1v1h-1zM1178 203h1v1h-1zM1179 204h1v1h-1zM1180 205h2v1h-2zM1182 206h1v1h-1zM1183 207h1v1h-1zM1184 208h1v1h-1zM1185 209h1v1h-1zM1186 210h1v1h-1zM1187 211h1v1h-1zM1188 212h1v1h-1zM1189 213h1v1h-1zM1190 214h1v2h-1zM1191 216h1v1h-1zM1192 217h1v2h-1zM1193 219h1v2h-1zM1194 221h1v2h-1zM1195 223h1v2h-1zM1196 225h1v2h-1zM1197 227h1v1h-1zM1198 228h1v1h-1zM1199 229h1v1h-1zM1200 230h1v2h-1zM1201 232h1v1h-1zM1202 233h1v1h-1zM1203 234h2v1h-2zM1205 233h2v1h-2zM1207 232h1v1h-1zM1208 231h1v1h-1zM1209 230h2v1h-2zM1211 229h1v1h-1zM1212 227h1v2h-1zM1213 226h1v1h-1zM1214 224h1v2h-1zM1215 222h1v2h-1zM1216 221h1v1h-1zM1217 219h1v2h-1zM1218 217h1v2h-1zM1219 216h1v1h-1zM1220 214h1v2h-1zM1221 212h1v2h-1zM1222 211h1v1h-1zM1223 209h1v2h-1zM1224 208h1v1h-1zM1225 207h2v1h-2zM1227 206h1v1h-1zM1228 206h1v2h-1zM1229 208h1v2h-1zM1230 210h1v2h-1zM1231 212h1v2h-1zM1232 214h1v2h-1zM1233 216h1v1h-1zM1234 217h1v1h-1zM1235 218h1v2h-1zM1236 220h1v2h-1zM1237 222h1v4h-1zM1238 226h1v4h-1zM1239 230h1v4h-1zM1240 234h1v6h-1zM1241 240h1v6h-1zM1242 246h1v6h-1zM1243 252h1v7h-1zM1244 259h1v8h-1zM1245 267h1v8h-1zM1246 275h1v8h-1zM1247 283h1v7h-1zM1248 290h1v6h-1zM1249 296h1v6h-1zM1250 302h1v5h-1zM1251 307h1v6h-1zM1252 313h1v3h-1zM1253 316h1v4h-1zM1254 320h1v7h-1zM1255 327h1v9h-1zM1256 336h1v8h-1zM1257 344h1v7h-1zM1258 351h1v7h-1zM1259 358h1v5h-1zM1260 363h1v6h-1zM1261 369h1v4h-1zM1262 373h1v4h-1zM1263 377h1v4h-1zM1264 381h1v4h-1zM1265 385h1v5h-1zM1266 390h1v5h-1zM1267 395h1v4h-1zM1268 399h1v3h-1zM1269 402h1v1h-1z"/>
<rect x="4" y="75" width="1592" height="2" fill="#ff0000"/>
<rect x="4" y="102" width="1592" height="2" fill="#ff0000"/>
<rect x="4" y="130" width="1592" height="2" fill="#ff0000"/>
<rect x="4" y="165" width="1592" height="2" fill="#ff0000"/>
<rect x="3" y="163" width="6" height="6" fill="#ff0000"/>
<rect x="5" y="165" width="2" height="2" fill="#fff"/>
<rect x="1590" y="163" width="6" height="6" fill="#ff0000"/>
<rect x="1592" y="165" width="2" height="2" fill="#fff"/>
<rect x="4" y="194" width="1592" height="2" fill="#ff0000"/>
<rect x="3" y="192" width="6" height="6" fill="#ff0000"/>
<rect x="5" y="194" width="2" height="2" fill="#fff"/>
<rect x="1590" y="192" width="6" height="6" fill="#ff0000"/>
<rect x="1592" y="194" width="2" height="2" fill="#fff"/>
<rect x="4" y="213" width="1592" height="2" fill="#ff0000"/>
<rect x="3" y="211" width="6" height="6" fill="#ff0000"/>
<rect x="5" y="213" width="2" height="2" fill="#fff"/>
<rect x="1590" y="211" width="6" height="6" fill="#ff0000"/>
<rect x="1592" y="213" width="2" height="2" fill="#fff"/>
<rect x="4" y="240" width="1592" height="2" fill="#ff0000"/>
<rect x="3" y="238" width="6" height="6" fill="#ff0000"/>
<rect x="5" y="240" width="2" height="2" fill="#fff"/>
<rect x="1590" y="238" width="6" height="6" fill="#ff0000"/>
<rect x="1592" y="240" width="2" height="2" fill="#fff"/>
<rect x="4" y="260" width="1592" height="2" fill="#ff0000"/>
<rect x="3" y="258" width="6" height="6" fill="#ff0000"/>
<rect x="5" y="260" width="2" height="2" fill="#fff"/>
<rect x="1590" y="258" width="6" height="6" fill="#ff0000"/>
<rect x="1592" y="260" width="2" height="2" fill="#fff"/>
<rect x="4" y="296" width="1592" height="2" fill="#ff0000"/>
<rect x="3" y="294" width="6" height="6" fill="#ff0000"/>
<rect x="5" y="296" width="2" height="2" fill="#fff"/>
<rect x="1590" y="294" width="6" height="6" fill="#ff0000"/>
<rect x="1592" y="296" width="2" height="2" fill="#fff"/>
<rect x="4" y="323" width="1592" height="2" fill="#ff0000"/>
<rect x="3" y="321" width="6" height="6" fill="#ff0000"/>
<rect x="5" y="323" width="2" height="2" fill="#fff"/>
<rect x="1590" y="321" width="6" height="6" fill="#ff0000"/>
<rect x="1592" y="323" width="2" height="2" fill="#fff"/>
<rect x="4" y="350" width="1592" height="2" fill="#ff0000"/>
<rect x="3" y="348" width="6" height="6" fill="#ff0000"/>
<rect x="5" y="350" width="2" height="2" fill="#fff"/>
<rect x="1590" y="348" width="6" height="6" fill="#ff0000"/>
<rect x="1592" y="350" width="2" height="2" fill="#fff"/>
<rect x="4" y="406" width="1592" height="2" fill="#00ff00"/>
<rect x="3" y="404" width="6" height="6" fill="#00ff00"/>
<rect x="5" y="406" width="2" height="2" fill="#fff"/>
<rect x="1590" y="404" width="6" height="6" fill="#00ff00"/>
<rect x="1592" y="406" width="2" height="2" fill="#fff"/>
<rect x="4" y="461" width="1592" height="2" fill="#0000ff"/>
<rect x="3" y="459" width="6" height="6" fill="#0000ff"/>
<rect x="5" y="461" width="2" height="2" fill="#fff"/>
<rect x="1590" y="459" width="6" height="6" fill="#0000ff"/>
<rect x="1592" y="461" width="2" height="2" fill="#fff"/>
<rect x="4" y="517" width="1592" height="2" fill="#0000ff"/>
<rect x="3" y="515" width="6" height="6" fill="#0000ff"/>
<rect x="5" y="517" width="2" height="2" fill="#fff"/>
<rect x="1590" y="515" width="6" height="6" fill="#0000ff"/>
<rect x="1592" y="517" width="2" height="2" fill="#fff"/>
<rect x="3" y="22" width="1594" height="1" fill="#000"/>
<rect x="3" y="22" width="1" height="507" fill="#000"/>
<rect x="1596" y="22" width="1" height="507" fill="#000"/>
<rect x="3" y="528" width="1594" height="1" fill="#000"/>
<rect x="3" y="530" width="1594" height="1" fill="#000"/>
<rect x="3" y="530" width="1" height="93" fill="#000"/>
<rect x="1596" y="530" width="1" height="93" fill="#000"/>
<rect x="3" y="622" width="1594" height="1" fill="#000"/>
<rect x="3" y="624" width="1594" height="1" fill="#000"/>
<rect x="3" y="624" width="1" height="93" fill="#000"/>
<rect x="1596" y="624" width="1" height="93" fill="#000"/>
<rect x="3" y="716" width="1594" height="1" fill="#000"/>
<rect x="1597" y="30" width="2" height="1" fill="#000"/>
<text transform="translate(1602 34) scale(1 1.06)" fill="#000" stroke="#000" stroke-width="0.25" font-size="9.2">0.72650</text>
<rect x="1597" y="63" width="2" height="1" fill="#000"/>
<text transform="translate(1602 67) scale(1 1.06)" fill="#000" stroke="#000" stroke-width="0.25" font-size="9.2">0.71460</text>
<rect x="1597" y="96" width="2" height="1" fill="#000"/>
<text transform="translate(1602 100) scale(1 1.06)" fill="#000" stroke="#000" stroke-width="0.25" font-size="9.2">0.70270</text>
<rect x="1597" y="129" width="2" height="1" fill="#000"/>
<text transform="translate(1602 133) scale(1 1.06)" fill="#000" stroke="#000" stroke-width="0.25" font-size="9.2">0.69080</text>
<rect x="1597" y="162" width="2" height="1" fill="#000"/>
<text transform="translate(1602 166) scale(1 1.06)" fill="#000" stroke="#000" stroke-width="0.25" font-size="9.2">0.67890</text>
<rect x="1597" y="195" width="2" height="1" fill="#000"/>
<text transform="translate(1602 199) scale(1 1.06)" fill="#000" stroke="#000" stroke-width="0.25" font-size="9.2">0.66700</text>
<rect x="1597" y="228" width="2" height="1" fill="#000"/>
<text transform="translate(1602 232) scale(1 1.06)" fill="#000" stroke="#000" stroke-width="0.25" font-size="9.2">0.65510</text>
<rect x="1597" y="261" width="2" height="1" fill="#000"/>
<text transform="translate(1602 265) scale(1 1.06)" fill="#000" stroke="#000" stroke-width="0.25" font-size="9.2">0.64320</text>
<rect x="1597" y="294" width="2" height="1" fill="#000"/>
<text transform="translate(1602 298) scale(1 1.06)" fill="#000" stroke="#000" stroke-width="0.25" font-size="9.2">0.63095</text>
<rect x="1597" y="327" width="2" height="1" fill="#000"/>
<text transform="translate(1602 331) scale(1 1.06)" fill="#000" stroke="#000" stroke-width="0.25" font-size="9.2">0.61905</text>
<rect x="1597" y="360" width="2" height="1" fill="#000"/>
<text transform="translate(1602 364) scale(1 1.06)" fill="#000" stroke="#000" stroke-width="0.25" font-size="9.2">0.60715</text>
<rect x="1597" y="393" width="2" height="1" fill="#000"/>
<text transform="translate(1602 397) scale(1 1.06)" fill="#000" stroke="#000" stroke-width="0.25" font-size="9.2">0.59525</text>
<rect x="1597" y="426" width="2" height="1" fill="#000"/>
<text transform="translate(1602 430) scale(1 1.06)" fill="#000" stroke="#000" stroke-width="0.25" font-size="9.2">0.58335</text>
<rect x="1597" y="459" width="2" height="1" fill="#000"/>
<text transform="translate(1602 463) scale(1 1.06)" fill="#000" stroke="#000" stroke-width="0.25" font-size="9.2">0.57145</text>
<rect x="1597" y="492" width="2" height="1" fill="#000"/>
<text transform="translate(1602 496) scale(1 1.06)" fill="#000" stroke="#000" stroke-width="0.25" font-size="9.2">0.55955</text>
<rect x="1597" y="525" width="2" height="1" fill="#000"/>
<text transform="translate(1602 529) scale(1 1.06)" fill="#000" stroke="#000" stroke-width="0.25" font-size="9.2">0.54765</text>
<rect x="1598" y="70" width="41" height="11" fill="#ff0000"/>
<text transform="translate(1602 79) scale(1 1.06)" fill="#fff" stroke="#fff" stroke-width="0.25" font-size="9.2">0.71016</text>
<rect x="1598" y="97" width="41" height="11" fill="#ff0000"/>
<text transform="translate(1602 106) scale(1 1.06)" fill="#fff" stroke="#fff" stroke-width="0.25" font-size="9.2">0.70007</text>
<rect x="1598" y="125" width="41" height="11" fill="#ff0000"/>
<text transform="translate(1602 134) scale(1 1.06)" fill="#fff" stroke="#fff" stroke-width="0.25" font-size="9.2">0.69010</text>
<rect x="1598" y="160" width="41" height="11" fill="#ff0000"/>
<text transform="translate(1602 169) scale(1 1.06)" fill="#fff" stroke="#fff" stroke-width="0.25" font-size="9.2">0.67754</text>
<rect x="1598" y="189" width="41" height="11" fill="#ff0000"/>
<text transform="translate(1602 198) scale(1 1.06)" fill="#fff" stroke="#fff" stroke-width="0.25" font-size="9.2">0.66706</text>
<rect x="1598" y="208" width="41" height="11" fill="#ff0000"/>
<text transform="translate(1602 217) scale(1 1.06)" fill="#fff" stroke="#fff" stroke-width="0.25" font-size="9.2">0.66009</text>
<rect x="1598" y="235" width="41" height="11" fill="#ff0000"/>
<text transform="translate(1602 244) scale(1 1.06)" fill="#fff" stroke="#fff" stroke-width="0.25" font-size="9.2">0.65026</text>
<rect x="1598" y="255" width="41" height="11" fill="#ff0000"/>
<text transform="translate(1602 264) scale(1 1.06)" fill="#fff" stroke="#fff" stroke-width="0.25" font-size="9.2">0.64306</text>
<rect x="1598" y="291" width="41" height="11" fill="#ff0000"/>
<text transform="translate(1602 300) scale(1 1.06)" fill="#fff" stroke="#fff" stroke-width="0.25" font-size="9.2">0.63005</text>
<rect x="1598" y="318" width="41" height="11" fill="#ff0000"/>
<text transform="translate(1602 327) scale(1 1.06)" fill="#fff" stroke="#fff" stroke-width="0.25" font-size="9.2">0.62020</text>
<rect x="1598" y="345" width="41" height="11" fill="#ff0000"/>
<text transform="translate(1602 354) scale(1 1.06)" fill="#fff" stroke="#fff" stroke-width="0.25" font-size="9.2">0.61034</text>
<rect x="1598" y="401" width="41" height="11" fill="#00ff00"/>
<text transform="translate(1602 410) scale(1 1.06)" fill="#fff" stroke="#fff" stroke-width="0.25" font-size="9.2">0.59013</text>
<rect x="1598" y="456" width="41" height="11" fill="#0000ff"/>
<text transform="translate(1602 465) scale(1 1.06)" fill="#fff" stroke="#fff" stroke-width="0.25" font-size="9.2">0.57021</text>
<rect x="1598" y="512" width="41" height="11" fill="#0000ff"/>
<text transform="translate(1602 521) scale(1 1.06)" fill="#fff" stroke="#fff" stroke-width="0.25" font-size="9.2">0.55021</text>
<rect x="1598" y="428" width="41" height="11" fill="#000"/>
<text transform="translate(1602 437) scale(1 1.06)" fill="#fff" stroke="#fff" stroke-width="0.25" font-size="9.2">0.58071</text>
<text transform="translate(1600 541) scale(1 1.06)" fill="#000" stroke="#000" stroke-width="0.25" font-size="9.2">100</text>
<text transform="translate(1600 562) scale(1 1.06)" fill="#000" stroke="#000" stroke-width="0.25" font-size="9.2">70</text>
<text transform="translate(1600 598) scale(1 1.06)" fill="#000" stroke="#000" stroke-width="0.25" font-size="9.2">30</text>
<text transform="translate(1600 619) scale(1 1.06)" fill="#000" stroke="#000" stroke-width="0.25" font-size="9.2">0</text>
<rect x="1597" y="532" width="1" height="1" fill="#000"/>
<rect x="1597" y="621" width="1" height="1" fill="#000"/>
<rect x="1597" y="626" width="1" height="1" fill="#000"/>
<rect x="1597" y="715" width="1" height="1" fill="#000"/>
<rect x="1597" y="644" width="2" height="1" fill="#000"/>
<text transform="translate(1600 635) scale(1 1.06)" fill="#000" stroke="#000" stroke-width="0.25" font-size="9.2">0.005831</text>
<text transform="translate(1600 648) scale(1 1.06)" fill="#000" stroke="#000" stroke-width="0.25" font-size="9.2">0.00</text>
<text transform="translate(1599.5 713) scale(1 1.06)" fill="#000" stroke="#000" stroke-width="0.25" font-size="9.2">-0.022024</text>
<rect x="4" y="717" width="1" height="3" fill="#000"/>
<text transform="translate(3.5 729) scale(1 1.06)" fill="#000" stroke="#000" stroke-width="0.25" font-size="9.2">18 Mar 2019</text>
<rect x="68" y="717" width="1" height="3" fill="#000"/>
<text transform="translate(67.5 729) scale(1 1.06)" fill="#000" stroke="#000" stroke-width="0.25" font-size="9.2">5 Apr 2019</text>
<rect x="132" y="717" width="1" height="3" fill="#000"/>
<text transform="translate(131.5 729) scale(1 1.06)" fill="#000" stroke="#000" stroke-width="0.25" font-size="9.2">24 Apr 2019</text>
<rect x="196" y="717" width="1" height="3" fill="#000"/>
<text transform="translate(195.5 729) scale(1 1.06)" fill="#000" stroke="#000" stroke-width="0.25" font-size="9.2">13 May 2019</text>
<rect x="260" y="717" width="1" height="3" fill="#000"/>
<text transform="translate(259.5 729) scale(1 1.06)" fill="#000" stroke="#000" stroke-width="0.25" font-size="9.2">31 May 2019</text>
<rect x="324" y="717" width="1" height="3" fill="#000"/>
<text transform="translate(323.5 729) scale(1 1.06)" fill="#000" stroke="#000" stroke-width="0.25" font-size="9.2">19 Jun 2019</text>
<rect x="388" y="717" width="1" height="3" fill="#000"/>
<text transform="translate(387.5 729) scale(1 1.06)" fill="#000" stroke="#000" stroke-width="0.25" font-size="9.2">8 Jul 2019</text>
<rect x="452" y="717" width="1" height="3" fill="#000"/>
<text transform="translate(451.5 729) scale(1 1.06)" fill="#000" stroke="#000" stroke-width="0.25" font-size="9.2">26 Jul 2019</text>
<rect x="516" y="717" width="1" height="3" fill="#000"/>
<text transform="translate(515.5 729) scale(1 1.06)" fill="#000" stroke="#000" stroke-width="0.25" font-size="9.2">14 Aug 2019</text>
<rect x="580" y="717" width="1" height="3" fill="#000"/>
<text transform="translate(579.5 729) scale(1 1.06)" fill="#000" stroke="#000" stroke-width="0.25" font-size="9.2">2 Sep 2019</text>
<rect x="644" y="717" width="1" height="3" fill="#000"/>
<text transform="translate(643.5 729) scale(1 1.06)" fill="#000" stroke="#000" stroke-width="0.25" font-size="9.2">20 Sep 2019</text>
<rect x="708" y="717" width="1" height="3" fill="#000"/>
<text transform="translate(707.5 729) scale(1 1.06)" fill="#000" stroke="#000" stroke-width="0.25" font-size="9.2">9 Oct 2019</text>
<rect x="772" y="717" width="1" height="3" fill="#000"/>
<text transform="translate(771.5 729) scale(1 1.06)" fill="#000" stroke="#000" stroke-width="0.25" font-size="9.2">28 Oct 2019</text>
<rect x="836" y="717" width="1" height="3" fill="#000"/>
<text transform="translate(835.5 729) scale(1 1.06)" fill="#000" stroke="#000" stroke-width="0.25" font-size="9.2">15 Nov 2019</text>
<rect x="900" y="717" width="1" height="3" fill="#000"/>
<text transform="translate(899.5 729) scale(1 1.06)" fill="#000" stroke="#000" stroke-width="0.25" font-size="9.2">4 Dec 2019</text>
<rect x="964" y="717" width="1" height="3" fill="#000"/>
<text transform="translate(963.5 729) scale(1 1.06)" fill="#000" stroke="#000" stroke-width="0.25" font-size="9.2">23 Dec 2019</text>
<rect x="1028" y="717" width="1" height="3" fill="#000"/>
<text transform="translate(1027.5 729) scale(1 1.06)" fill="#000" stroke="#000" stroke-width="0.25" font-size="9.2">10 Jan 2020</text>
<rect x="1092" y="717" width="1" height="3" fill="#000"/>
<text transform="translate(1091.5 729) scale(1 1.06)" fill="#000" stroke="#000" stroke-width="0.25" font-size="9.2">29 Jan 2020</text>
<rect x="1156" y="717" width="1" height="3" fill="#000"/>
<text transform="translate(1155.5 729) scale(1 1.06)" fill="#000" stroke="#000" stroke-width="0.25" font-size="9.2">17 Feb 2020</text>
<rect x="1220" y="717" width="1" height="3" fill="#000"/>
<text transform="translate(1219.5 729) scale(1 1.06)" fill="#000" stroke="#000" stroke-width="0.25" font-size="9.2">6 Mar 2020</text>
<polygon points="7,28 14,28 10.5,32" fill="#000"/>
<text transform="translate(20 34) scale(1 1.06)" fill="#000" stroke="#000" stroke-width="0.25" font-size="9.2" textLength="65" lengthAdjust="spacingAndGlyphs">AUDUSD,Daily</text>
<text transform="translate(91 34) scale(1 1.06)" fill="#000" stroke="#000" stroke-width="0.25" font-size="9.2">0.58507 0.58845 0.56629 0.58071</text>
<text transform="translate(8.4 542.5) scale(1 1.06)" fill="#000" stroke="#000" stroke-width="0.25" font-size="9.2">RSI(14)</text>
<text transform="translate(42.9 542.5) scale(1 1.06)" fill="#000" stroke="#000" stroke-width="0.25" font-size="9.2">16.8564</text>
<text transform="translate(8.4 636.5) scale(1 1.06)" fill="#000" stroke="#000" stroke-width="0.25" font-size="9.2" textLength="66" lengthAdjust="spacingAndGlyphs">MACD(12,26,9)</text>
<text transform="translate(77.5 636.5) scale(1 1.06)" fill="#000" stroke="#000" stroke-width="0.25" font-size="9.2" textLength="40.3" lengthAdjust="spacingAndGlyphs">-0.020758</text>
<text transform="translate(121.4 636.5) scale(1 1.06)" fill="#000" stroke="#000" stroke-width="0.25" font-size="9.2" textLength="40.6" lengthAdjust="spacingAndGlyphs">-0.012610</text>
</svg>
<div id="tabs"><span class="tab" style="left:17.5px;letter-spacing:-0.1px">EURUSD,Daily</span><span class="tab" style="left:119.3px;letter-spacing:0px">USDCHF,Daily</span><span class="tab" style="left:323.8px;letter-spacing:0.04px">USDCAD,Daily</span><span class="tab" style="left:427.3px;letter-spacing:0.15px">USDCNH,Daily</span><span class="tab" style="left:533px;letter-spacing:0px">EURUSD,Daily</span><span class="tab" style="left:636.8px;letter-spacing:-0.12px">GBPUSD,Daily</span><span class="tab" style="left:741px;letter-spacing:0.2px">XAUUSD,M5</span><span class="tab" style="left:836px;letter-spacing:0.04px">HK50,H1</span><span class="tab" style="left:908px;letter-spacing:0.07px">UK100,H1</span><span class="tab" style="left:988px;letter-spacing:0.07px">UK100,H1</span><span class="tab" style="left:1067.8px;letter-spacing:-0.12px">GER30,H1</span><span class="tab" style="left:1147px;letter-spacing:-0.25px">FRA40,H1</span><span class="tab" style="left:1224px;letter-spacing:0.27px">USOil,M5</span><i class="sep" style="left:109px"></i><i class="sep" style="left:417px"></i><i class="sep" style="left:521px"></i><i class="sep" style="left:625px"></i><i class="sep" style="left:729px"></i><i class="sep" style="left:825px"></i><i class="sep" style="left:897px"></i><i class="sep" style="left:977px"></i><i class="sep" style="left:1057px"></i><i class="sep" style="left:1137px"></i><i class="sep" style="left:1213px"></i><i class="sep" style="left:1289px"></i><svg width="40" height="16" viewBox="0 0 40 16" style="left:1603px;top:0"><polygon points="9,8 12,5 12,11" fill="#a0a0a0"/><polygon points="31,8 28,5 28,11" fill="#a0a0a0"/></svg></div>
<i id="tl"></i>
<div id="act"><span>AUDUSD,Daily</span></div>
</body></html>
